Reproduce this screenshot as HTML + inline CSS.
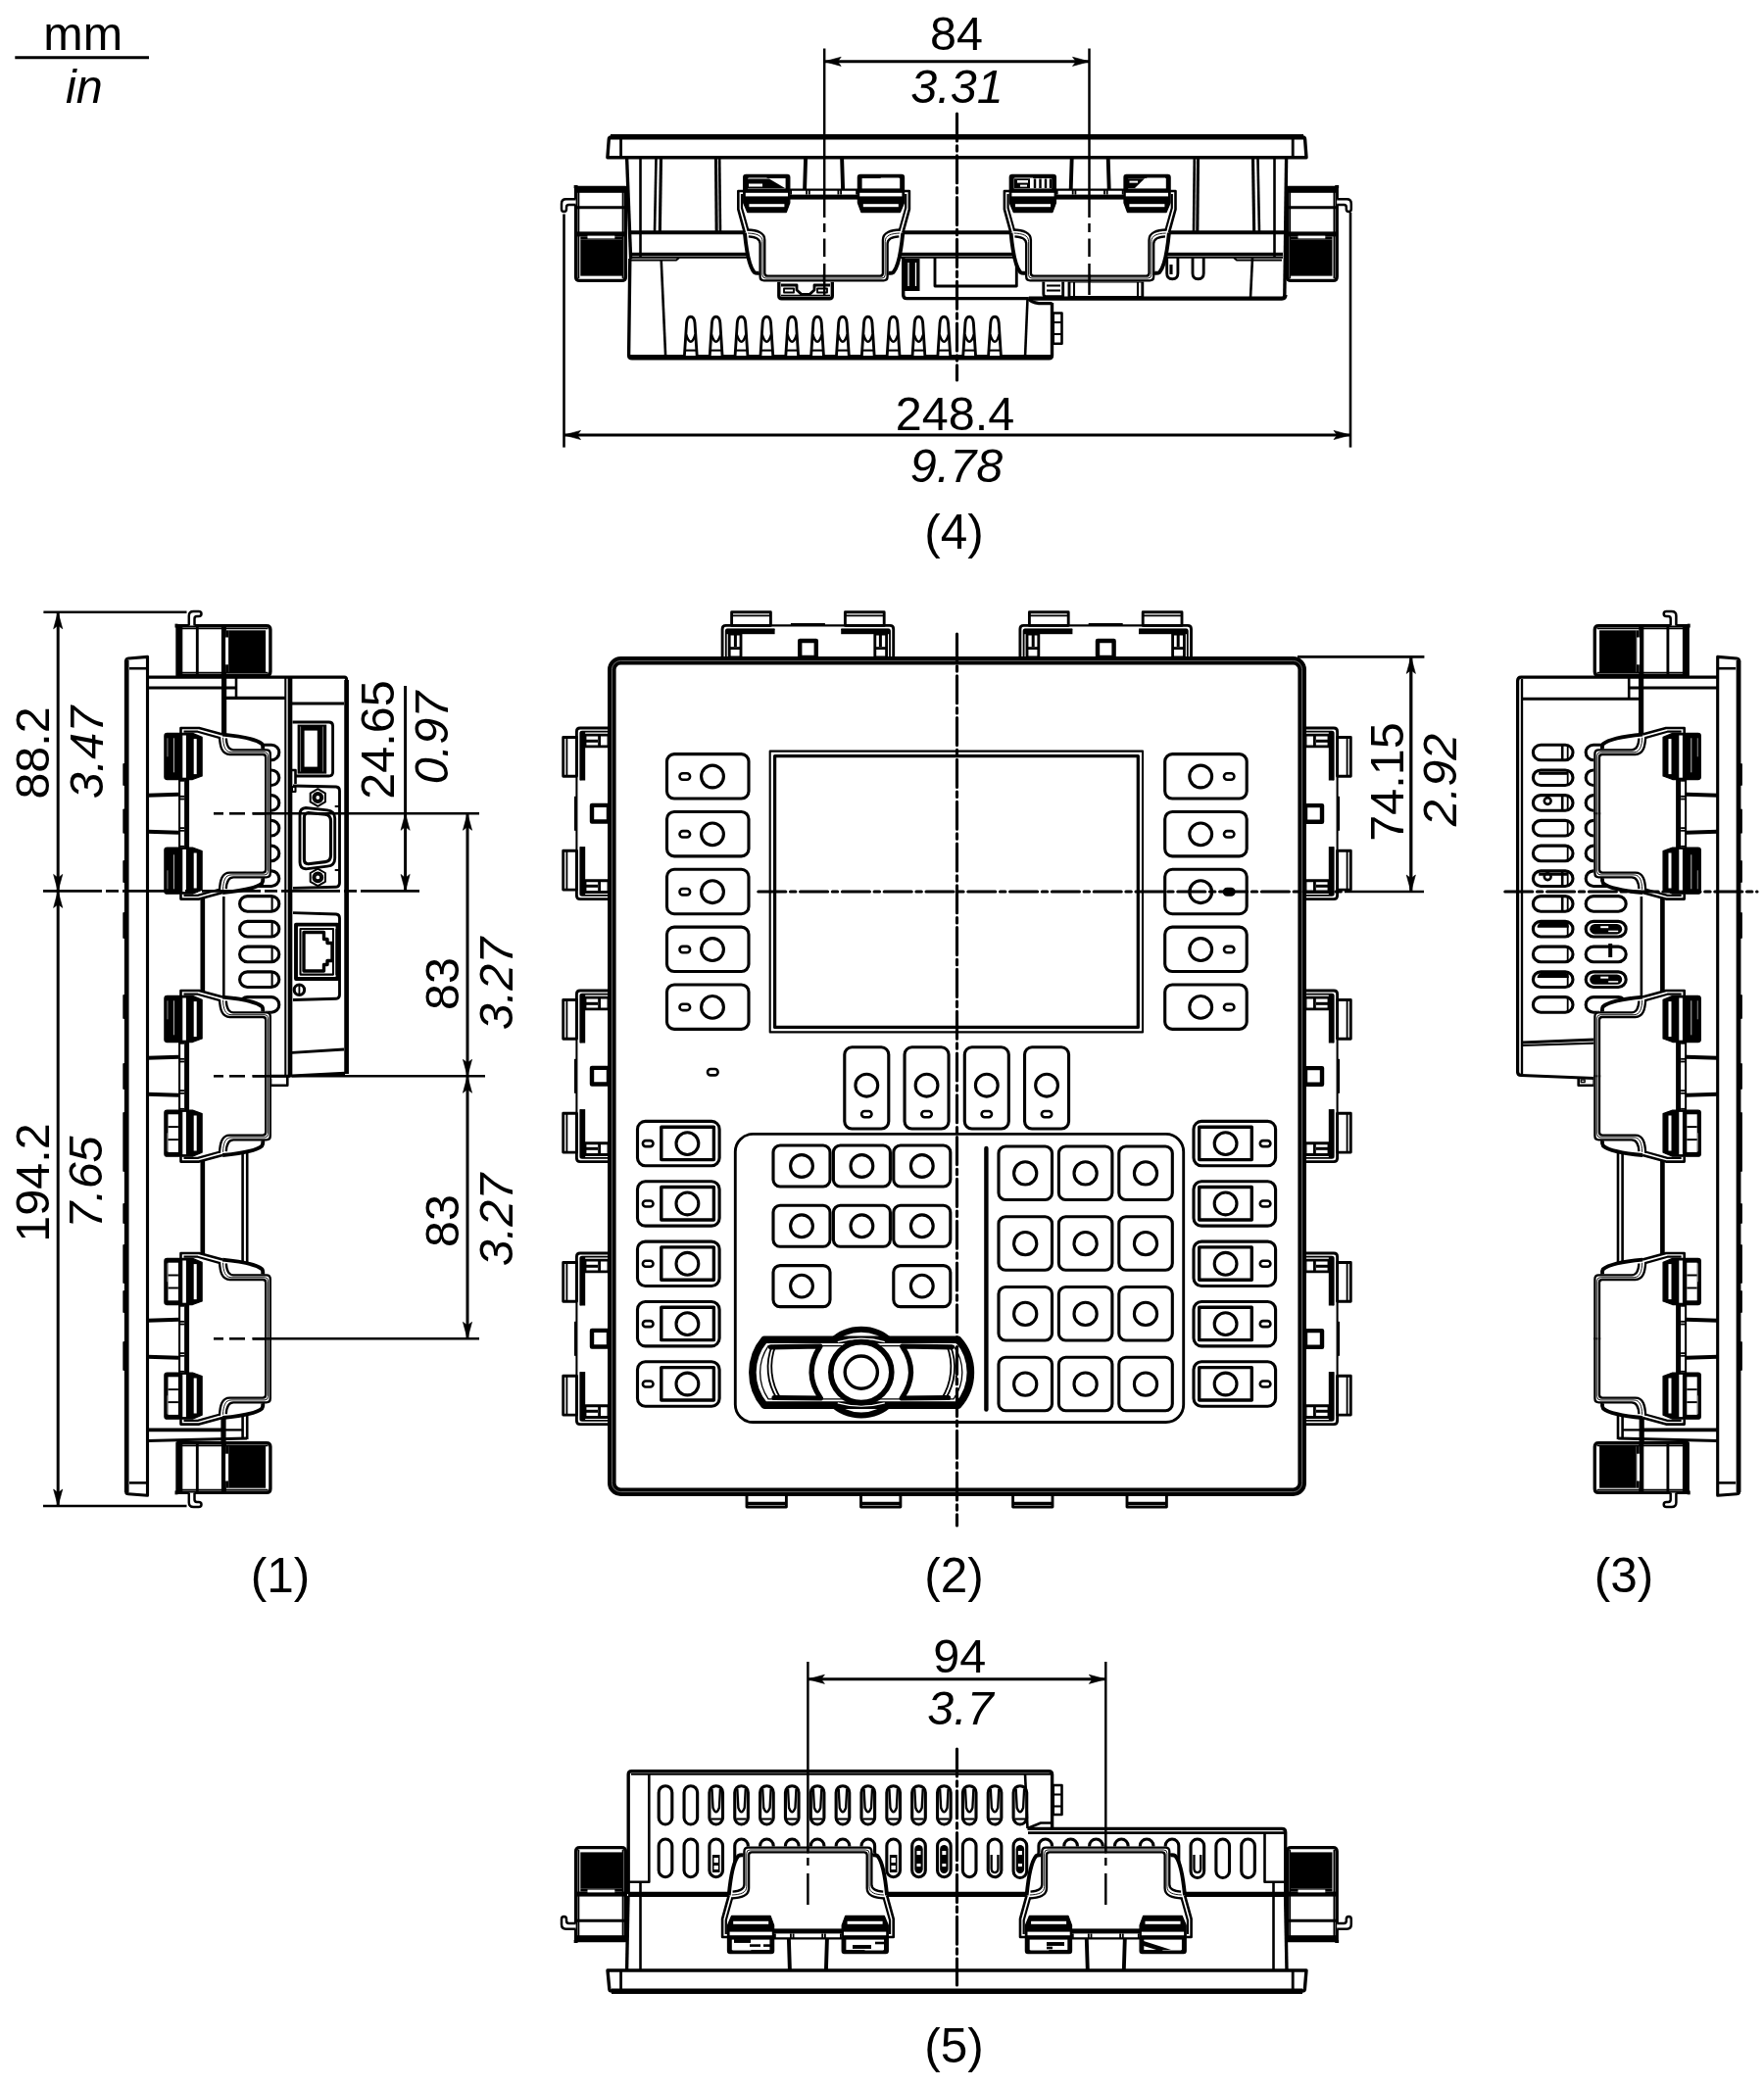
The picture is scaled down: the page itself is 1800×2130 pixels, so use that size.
<!DOCTYPE html><html><head><meta charset="utf-8"><title>Dimensions</title>
<style>html,body{margin:0;padding:0;background:#fff}svg{display:block}text{font-family:"Liberation Sans",sans-serif}</style></head><body>
<svg width="1800" height="2130" viewBox="0 0 1800 2130" fill="none" stroke="#000" stroke-linejoin="round">
<rect x="0" y="0" width="1800" height="2130" fill="#fff" stroke="none"/>
<defs>
<g id="clip">
<line x1="-18.5" y1="0" x2="-19.5" y2="32" stroke-width="3.9" />
<line x1="18.5" y1="0" x2="19.5" y2="32" stroke-width="3.9" />
<path d="M-87.3,34 V52.7 L-80.7,76.6 C-78.5,100 -74.5,113 -71,117 L-65.8,121 Q-65.8,126.4 -60.8,126.4 H60.8 Q65.8,126.4 65.8,121 L71,117 C74.5,113 78.5,100 80.7,76.6 L87.3,52.7 V34 Z" stroke-width="0" fill="#fff" stroke="none" />
<g transform="scale(1 1)" >
<path d="M-81.9,34 H-87.3 V52.7 L-80.7,76.6" stroke-width="2.6" fill="none" stroke="#000" />
<path d="M-80.7,76.6 C-78.5,100 -74.5,112.8 -71.1,116.8 Q-69,118.2 -65.8,117.6" stroke-width="3.9" fill="none" stroke="#000" />
<path d="M-83.6,37 V51.2 L-77.2,74" stroke-width="2.21" fill="none" stroke="#000" />
<path d="M-78.3,73.5 C-68,74 -60.3,76 -60.3,84 V117.7 Q-60.3,120.7 -57.3,120.7 H1" stroke-width="2.34" fill="none" stroke="#000" />
<path d="M-76.8,80.3 C-70,80.7 -65,82.2 -65,87.7 V121.3 Q-65,125.3 -61,125.3 H1" stroke-width="2.34" fill="none" stroke="#000" />
<path d="M-77.5,77 C-69,77.4 -62.6,79 -62.6,85.6 V119.6 Q-62.6,123 -59.2,123 H1" stroke-width="0.91" fill="none" stroke="#000" />
<path d="M-81.9,20 Q-81.9,17.4 -79.4,17.4 H-37.3 Q-34.8,17.4 -34.8,20 V46 L-38.3,55.6 H-77.9 L-81.9,46 Z" stroke-width="1.3" fill="#000" stroke="#000" />
<rect x="-79.8" y="35.8" width="43.2" height="3.6" rx="0" stroke-width="0" fill="#fff" stroke="none" />
<rect x="-76.2" y="47.2" width="36" height="3" rx="0" stroke-width="0" fill="#fff" stroke="none" />
<rect x="-77" y="26.4" width="35" height="1.1" rx="0" stroke-width="0" fill="#aaa" stroke="none" />
<rect x="-77" y="20" width="19" height="0.9" rx="0" stroke-width="0" fill="#999" stroke="none" />
</g>
<g transform="scale(-1 1)" >
<path d="M-81.9,34 H-87.3 V52.7 L-80.7,76.6" stroke-width="2.6" fill="none" stroke="#000" />
<path d="M-80.7,76.6 C-78.5,100 -74.5,112.8 -71.1,116.8 Q-69,118.2 -65.8,117.6" stroke-width="3.9" fill="none" stroke="#000" />
<path d="M-83.6,37 V51.2 L-77.2,74" stroke-width="2.21" fill="none" stroke="#000" />
<path d="M-78.3,73.5 C-68,74 -60.3,76 -60.3,84 V117.7 Q-60.3,120.7 -57.3,120.7 H1" stroke-width="2.34" fill="none" stroke="#000" />
<path d="M-76.8,80.3 C-70,80.7 -65,82.2 -65,87.7 V121.3 Q-65,125.3 -61,125.3 H1" stroke-width="2.34" fill="none" stroke="#000" />
<path d="M-77.5,77 C-69,77.4 -62.6,79 -62.6,85.6 V119.6 Q-62.6,123 -59.2,123 H1" stroke-width="0.91" fill="none" stroke="#000" />
<path d="M-81.9,20 Q-81.9,17.4 -79.4,17.4 H-37.3 Q-34.8,17.4 -34.8,20 V46 L-38.3,55.6 H-77.9 L-81.9,46 Z" stroke-width="1.3" fill="#000" stroke="#000" />
<rect x="-79.8" y="35.8" width="43.2" height="3.6" rx="0" stroke-width="0" fill="#fff" stroke="none" />
<rect x="-76.2" y="47.2" width="36" height="3" rx="0" stroke-width="0" fill="#fff" stroke="none" />
<rect x="-77" y="26.4" width="35" height="1.1" rx="0" stroke-width="0" fill="#aaa" stroke="none" />
<rect x="-77" y="20" width="19" height="0.9" rx="0" stroke-width="0" fill="#999" stroke="none" />
</g>
<rect x="-35" y="37.6" width="70" height="5" rx="0" stroke-width="0" fill="#000" stroke="none" />
<line x1="-35" y1="32.6" x2="35" y2="32.6" stroke-width="2.08" />
<line x1="-33.5" y1="32.6" x2="-33.5" y2="37.6" stroke-width="1.82" />
<line x1="-17.5" y1="32.6" x2="-17.5" y2="37.6" stroke-width="1.82" />
<line x1="-14.8" y1="32.6" x2="-14.8" y2="37.6" stroke-width="1.82" />
<line x1="14.8" y1="32.6" x2="14.8" y2="37.6" stroke-width="1.82" />
<line x1="17.5" y1="32.6" x2="17.5" y2="37.6" stroke-width="1.82" />
<line x1="33.5" y1="32.6" x2="33.5" y2="37.6" stroke-width="1.82" />
</g>
<g id="clipInsetL">
<g transform="scale(1 1)" >
<rect x="-77.6" y="21" width="38.6" height="10.4" rx="0" stroke-width="0" fill="#fff" stroke="none" />
</g>
</g>
<g id="clipInsetR">
<g transform="scale(-1 1)" >
<rect x="-77.6" y="21" width="38.6" height="10.4" rx="0" stroke-width="0" fill="#fff" stroke="none" />
</g>
</g>
<g id="clipInset"><use href="#clipInsetL"/><use href="#clipInsetR"/></g>
<g id="screw">
<path d="M-32.4,30.5 H18.4 V121.4 Q18.4,125.4 14.4,125.4 H-28.4 Q-32.4,125.4 -32.4,121.4 Z" stroke-width="3.38" fill="#fff" stroke="#000" />
<line x1="-29.6" y1="31" x2="-29.6" y2="123" stroke-width="1.82" />
<line x1="15.6" y1="31" x2="15.6" y2="123" stroke-width="1.82" />
<rect x="-32.4" y="31" width="50.8" height="4.8" rx="0" stroke-width="0" fill="#000" stroke="none" />
<line x1="-32.4" y1="50.8" x2="18.4" y2="50.8" stroke-width="2.86" />
<rect x="-32.4" y="75.4" width="50.8" height="5" rx="0" stroke-width="0" fill="#000" stroke="none" />
<rect x="-27.7" y="83.3" width="42.7" height="37.3" rx="0" stroke-width="0" fill="#000" stroke="none" />
<rect x="-27.7" y="80.4" width="42.7" height="2.9" rx="0" stroke-width="0" fill="#000" stroke="none" />
<rect x="-20.5" y="79.6" width="27.8" height="2.8" rx="0" stroke-width="0" fill="#fff" stroke="none" />
<path d="M-32.4,42.3 H-42.5 Q-47,42.3 -47,47 V52.2 Q-47,55 -44.5,55 Q-42,55 -42,52.2 V50.4 Q-42,48 -39.6,48 H-32.4" stroke-width="2.47" fill="#fff" stroke="#000" />
<line x1="-32.4" y1="28" x2="-32.4" y2="31" stroke-width="3.9" />
</g>
<g id="fclip">
<g transform="scale(1 1)" >
<rect x="-77.8" y="-46.3" width="39.8" height="13.7" rx="0" stroke-width="2.86" fill="#fff" stroke="#000" />
<line x1="-77.8" y1="-42.6" x2="-38" y2="-42.6" stroke-width="1.82" />
<path d="M-87.3,0 V-29 Q-87.3,-32.6 -83.7,-32.6 H-38" stroke-width="2.86" fill="none" stroke="#000" />
<path d="M-83.6,0 V-27 Q-83.6,-28.6 -82,-28.6 H-34" stroke-width="1.82" fill="none" stroke="#000" />
<rect x="-83.6" y="-29.2" width="49.8" height="5.4" rx="0" stroke-width="0" fill="#000" stroke="none" />
<rect x="-80.2" y="-24" width="11.8" height="24" rx="0" stroke-width="2.86" fill="#fff" stroke="#000" />
<rect x="-75.5" y="-23" width="3" height="12" rx="0" stroke-width="0" fill="#000" stroke="none" />
<line x1="-80.2" y1="-9.4" x2="-68.4" y2="-9.4" stroke-width="2.86" />
</g>
<g transform="scale(-1 1)" >
<rect x="-77.8" y="-46.3" width="39.8" height="13.7" rx="0" stroke-width="2.86" fill="#fff" stroke="#000" />
<line x1="-77.8" y1="-42.6" x2="-38" y2="-42.6" stroke-width="1.82" />
<path d="M-87.3,0 V-29 Q-87.3,-32.6 -83.7,-32.6 H-38" stroke-width="2.86" fill="none" stroke="#000" />
<path d="M-83.6,0 V-27 Q-83.6,-28.6 -82,-28.6 H-34" stroke-width="1.82" fill="none" stroke="#000" />
<rect x="-83.6" y="-29.2" width="49.8" height="5.4" rx="0" stroke-width="0" fill="#000" stroke="none" />
<rect x="-80.2" y="-24" width="11.8" height="24" rx="0" stroke-width="2.86" fill="#fff" stroke="#000" />
<rect x="-75.5" y="-23" width="3" height="12" rx="0" stroke-width="0" fill="#000" stroke="none" />
<line x1="-80.2" y1="-9.4" x2="-68.4" y2="-9.4" stroke-width="2.86" />
</g>
<line x1="-38" y1="-32.6" x2="38" y2="-32.6" stroke-width="2.08" />
<line x1="-17.5" y1="-34" x2="17.5" y2="-34" stroke-width="2.08" />
<rect x="-8.2" y="-17" width="16.6" height="17" rx="0" stroke-width="4.42" fill="#fff" stroke="#000" />
</g>
</defs>
<text x="84.7" y="51" font-size="48.5" text-anchor="middle" fill="#000" stroke="none">mm</text>
<line x1="15.3" y1="58.7" x2="152" y2="58.7" stroke-width="2.86" />
<text x="85.8" y="104.6" font-size="48.5" font-style="italic" text-anchor="middle" fill="#000" stroke="none">in</text>
<path d="M623.4,140 H1329.6 Q1331.4,140 1331.6,142 L1333,160.7 H619.9 L621.3,142 Q621.5,140 623.4,140 Z" stroke-width="3.38" fill="#fff" stroke="#000" />
<line x1="623" y1="139.8" x2="1330" y2="139.8" stroke-width="5.46" />
<line x1="633.6" y1="141" x2="633.6" y2="160" stroke-width="2.86" />
<line x1="1319.2" y1="141" x2="1319.2" y2="160" stroke-width="2.86" />
<line x1="639.6" y1="161" x2="643.6" y2="264" stroke-width="3.38" />
<line x1="653.5" y1="161" x2="653.5" y2="262" stroke-width="2.6" />
<line x1="669.5" y1="161" x2="668" y2="237" stroke-width="2.6" />
<line x1="674.5" y1="161" x2="673.3" y2="237" stroke-width="3.12" />
<line x1="730.5" y1="161" x2="731.2" y2="237" stroke-width="3.12" />
<line x1="734.2" y1="161" x2="735" y2="237" stroke-width="2.6" />
<line x1="1222.5" y1="161" x2="1221.8" y2="237" stroke-width="3.12" />
<line x1="1218.8" y1="161" x2="1218" y2="237" stroke-width="2.6" />
<line x1="1283.5" y1="161" x2="1285" y2="237" stroke-width="2.6" />
<line x1="1278.5" y1="161" x2="1279.7" y2="237" stroke-width="3.12" />
<line x1="1300.5" y1="161" x2="1300.5" y2="262" stroke-width="2.6" />
<line x1="1312.6" y1="161" x2="1310.8" y2="304" stroke-width="3.38" />
<line x1="642.5" y1="237.2" x2="1310.5" y2="237.2" stroke-width="3.9" />
<line x1="643.6" y1="259.6" x2="1309" y2="259.6" stroke-width="3.9" />
<line x1="643.6" y1="262.8" x2="1309" y2="262.8" stroke-width="1.82" />
<path d="M644,265.5 H690 L693,263" stroke-width="2.08" fill="none" stroke="#000" />
<path d="M1308,265.5 H1262 L1259,263" stroke-width="2.08" fill="none" stroke="#000" />
<path d="M642.8,264 L641.6,362.5 Q641.6,365.8 645,365.8 H1070.5 Q1073.5,365.8 1073.5,362.8 V309" stroke-width="3.38" fill="none" stroke="#000" />
<line x1="643" y1="363" x2="1073" y2="363" stroke-width="1.82" />
<line x1="674.7" y1="265" x2="679.2" y2="365" stroke-width="2.6" />
<line x1="1048.5" y1="305" x2="1046" y2="365" stroke-width="2.6" />
<rect x="1074.7" y="319.5" width="8.8" height="31.2" rx="0" stroke-width="2.6" fill="none" stroke="#000" />
<line x1="1074.7" y1="329" x2="1083.5" y2="329" stroke-width="2.08" />
<line x1="1074.7" y1="341" x2="1083.5" y2="341" stroke-width="2.08" />
<path d="M698.4,363 L700.6,329.5 Q701.2,323.2 704.8,323.2 Q708.4,323.2 709,329.5 L711.2,363" stroke-width="2.86" fill="#fff" stroke="#000" />
<path d="M700.1,341.5 Q704.8,356 709.5,341.5" stroke-width="2.47" fill="none" stroke="#000" />
<line x1="699.4" y1="357.6" x2="710.4" y2="357.6" stroke-width="2.08" />
<path d="M724.25,363 L726.45,329.5 Q727.05,323.2 730.65,323.2 Q734.25,323.2 734.85,329.5 L737.05,363" stroke-width="2.86" fill="#fff" stroke="#000" />
<path d="M725.95,341.5 Q730.65,356 735.35,341.5" stroke-width="2.47" fill="none" stroke="#000" />
<line x1="725.25" y1="357.6" x2="736.25" y2="357.6" stroke-width="2.08" />
<path d="M750.1,363 L752.3,329.5 Q752.9,323.2 756.5,323.2 Q760.1,323.2 760.7,329.5 L762.9,363" stroke-width="2.86" fill="#fff" stroke="#000" />
<path d="M751.8,341.5 Q756.5,356 761.2,341.5" stroke-width="2.47" fill="none" stroke="#000" />
<line x1="751.1" y1="357.6" x2="762.1" y2="357.6" stroke-width="2.08" />
<path d="M775.95,363 L778.15,329.5 Q778.75,323.2 782.35,323.2 Q785.95,323.2 786.55,329.5 L788.75,363" stroke-width="2.86" fill="#fff" stroke="#000" />
<path d="M777.65,341.5 Q782.35,356 787.05,341.5" stroke-width="2.47" fill="none" stroke="#000" />
<line x1="776.95" y1="357.6" x2="787.95" y2="357.6" stroke-width="2.08" />
<path d="M801.8,363 L804,329.5 Q804.6,323.2 808.2,323.2 Q811.8,323.2 812.4,329.5 L814.6,363" stroke-width="2.86" fill="#fff" stroke="#000" />
<path d="M803.5,341.5 Q808.2,356 812.9,341.5" stroke-width="2.47" fill="none" stroke="#000" />
<line x1="802.8" y1="357.6" x2="813.8" y2="357.6" stroke-width="2.08" />
<path d="M827.65,363 L829.85,329.5 Q830.45,323.2 834.05,323.2 Q837.65,323.2 838.25,329.5 L840.45,363" stroke-width="2.86" fill="#fff" stroke="#000" />
<path d="M829.35,341.5 Q834.05,356 838.75,341.5" stroke-width="2.47" fill="none" stroke="#000" />
<line x1="828.65" y1="357.6" x2="839.65" y2="357.6" stroke-width="2.08" />
<path d="M853.5,363 L855.7,329.5 Q856.3,323.2 859.9,323.2 Q863.5,323.2 864.1,329.5 L866.3,363" stroke-width="2.86" fill="#fff" stroke="#000" />
<path d="M855.2,341.5 Q859.9,356 864.6,341.5" stroke-width="2.47" fill="none" stroke="#000" />
<line x1="854.5" y1="357.6" x2="865.5" y2="357.6" stroke-width="2.08" />
<path d="M879.35,363 L881.55,329.5 Q882.15,323.2 885.75,323.2 Q889.35,323.2 889.95,329.5 L892.15,363" stroke-width="2.86" fill="#fff" stroke="#000" />
<path d="M881.05,341.5 Q885.75,356 890.45,341.5" stroke-width="2.47" fill="none" stroke="#000" />
<line x1="880.35" y1="357.6" x2="891.35" y2="357.6" stroke-width="2.08" />
<path d="M905.2,363 L907.4,329.5 Q908,323.2 911.6,323.2 Q915.2,323.2 915.8,329.5 L918,363" stroke-width="2.86" fill="#fff" stroke="#000" />
<path d="M906.9,341.5 Q911.6,356 916.3,341.5" stroke-width="2.47" fill="none" stroke="#000" />
<line x1="906.2" y1="357.6" x2="917.2" y2="357.6" stroke-width="2.08" />
<path d="M931.05,363 L933.25,329.5 Q933.85,323.2 937.45,323.2 Q941.05,323.2 941.65,329.5 L943.85,363" stroke-width="2.86" fill="#fff" stroke="#000" />
<path d="M932.75,341.5 Q937.45,356 942.15,341.5" stroke-width="2.47" fill="none" stroke="#000" />
<line x1="932.05" y1="357.6" x2="943.05" y2="357.6" stroke-width="2.08" />
<path d="M956.9,363 L959.1,329.5 Q959.7,323.2 963.3,323.2 Q966.9,323.2 967.5,329.5 L969.7,363" stroke-width="2.86" fill="#fff" stroke="#000" />
<path d="M958.6,341.5 Q963.3,356 968,341.5" stroke-width="2.47" fill="none" stroke="#000" />
<line x1="957.9" y1="357.6" x2="968.9" y2="357.6" stroke-width="2.08" />
<path d="M982.75,363 L984.95,329.5 Q985.55,323.2 989.15,323.2 Q992.75,323.2 993.35,329.5 L995.55,363" stroke-width="2.86" fill="#fff" stroke="#000" />
<path d="M984.45,341.5 Q989.15,356 993.85,341.5" stroke-width="2.47" fill="none" stroke="#000" />
<line x1="983.75" y1="357.6" x2="994.75" y2="357.6" stroke-width="2.08" />
<path d="M1008.6,363 L1010.8,329.5 Q1011.4,323.2 1015,323.2 Q1018.6,323.2 1019.2,329.5 L1021.4,363" stroke-width="2.86" fill="#fff" stroke="#000" />
<path d="M1010.3,341.5 Q1015,356 1019.7,341.5" stroke-width="2.47" fill="none" stroke="#000" />
<line x1="1009.6" y1="357.6" x2="1020.6" y2="357.6" stroke-width="2.08" />
<path d="M921.7,263 V301 Q921.7,304.6 925.3,304.6 H1049.8" stroke-width="3.38" fill="none" stroke="#000" />
<rect x="923" y="264" width="15.5" height="33" rx="0" stroke-width="0" fill="#000" stroke="none" />
<line x1="927" y1="268" x2="927" y2="292" stroke-width="1.3" stroke="#fff"/>
<line x1="934.5" y1="268" x2="934.5" y2="292" stroke-width="1.3" stroke="#fff"/>
<path d="M954,263 V292 H1037.3 V263" stroke-width="2.86" fill="none" stroke="#000" />
<path d="M1049.8,304.6 H1308 Q1311.5,304.6 1311.5,301" stroke-width="4.16" fill="none" stroke="#000" />
<path d="M1049.8,304.6 Q1052,309 1060,309.6 H1073.5" stroke-width="3.38" fill="none" stroke="#000" />
<line x1="1278" y1="263" x2="1276" y2="304" stroke-width="2.6" />
<path d="M1190.7,263 V279 Q1190.7,284.8 1196.3,284.8 Q1201.9,284.8 1201.9,279 V263" stroke-width="2.86" fill="none" stroke="#000" />
<path d="M1217,263 V279 Q1217,284.8 1222.6,284.8 Q1228.2,284.8 1228.2,279 V263" stroke-width="2.86" fill="none" stroke="#000" />
<line x1="1195" y1="270" x2="1195" y2="280" stroke-width="3.12" />
<rect x="1091" y="287" width="74.8" height="16.5" rx="0" stroke-width="2.86" fill="none" stroke="#000" />
<line x1="1096" y1="287" x2="1096" y2="303.5" stroke-width="2.08" />
<line x1="1161" y1="287" x2="1161" y2="303.5" stroke-width="2.08" />
<path d="M1064.8,287 V300 Q1064.8,302.6 1067.4,302.6 H1084.7 V287" stroke-width="2.86" fill="none" stroke="#000" />
<line x1="1068" y1="291.5" x2="1082" y2="291.5" stroke-width="2.08" />
<line x1="1068" y1="296.5" x2="1082" y2="296.5" stroke-width="2.08" />
<path d="M794.8,287.4 V302 Q794.8,304.8 797.6,304.8 H846.5 Q849.3,304.8 849.3,302 V287.4" stroke-width="3.38" fill="#fff" stroke="#000" />
<path d="M797,291 H813 V296 L818,300.5 H826 L831,296 V291 H847" stroke-width="2.86" fill="none" stroke="#000" />
<rect x="800" y="294.5" width="10" height="4" rx="0" stroke-width="1.82" fill="none" stroke="#000" />
<rect x="834" y="294.5" width="10" height="4" rx="0" stroke-width="1.82" fill="none" stroke="#000" />
<line x1="797" y1="301.6" x2="847" y2="301.6" stroke-width="1.82" />
<use href="#clip" transform="translate(840.6 161)"/>
<use href="#clipInset" transform="translate(840.6 161)"/>
<use href="#clip" transform="translate(1112.2 161)"/>
<use href="#clipInset" transform="translate(1112.2 161)"/>
<path d="M763,182.5 H785 L801,192 H763 Z" stroke-width="0" fill="#000" stroke="none" />
<rect x="764" y="187.5" width="14" height="3" rx="0" stroke-width="0" fill="#fff" stroke="none" />
<line x1="1056" y1="182.5" x2="1056" y2="192" stroke-width="2.47" />
<line x1="1061.5" y1="182.5" x2="1061.5" y2="192" stroke-width="2.47" />
<line x1="1067" y1="182.5" x2="1067" y2="192" stroke-width="2.47" />
<line x1="1072" y1="182.5" x2="1072" y2="192" stroke-width="2.47" />
<rect x="1034.8" y="182.3" width="16.2" height="9.7" rx="0" stroke-width="0" fill="#000" stroke="none" />
<rect x="1038" y="184" width="11" height="2.6" rx="0" stroke-width="0" fill="#fff" stroke="none" />
<rect x="1041" y="188.6" width="7" height="2" rx="0" stroke-width="0" fill="#fff" stroke="none" />
<path d="M1150.8,182.3 H1168 L1158,192 H1150.8 Z" stroke-width="0" fill="#000" stroke="none" />
<rect x="1152.5" y="184.6" width="8.5" height="2" rx="0" stroke-width="0" fill="#fff" stroke="none" />
<use href="#screw" transform="translate(620 161)"/>
<use href="#screw" transform="translate(1331.8 161) scale(-1 1)"/>
<line x1="841.2" y1="49.5" x2="841.2" y2="222" stroke-width="2.47" />
<line x1="841.2" y1="228" x2="841.2" y2="237" stroke-width="2.47" />
<line x1="841.2" y1="243.5" x2="841.2" y2="262" stroke-width="2.47" />
<line x1="841.2" y1="269" x2="841.2" y2="301" stroke-width="2.47" />
<line x1="1111.5" y1="49.5" x2="1111.5" y2="222" stroke-width="2.47" />
<line x1="1111.5" y1="228" x2="1111.5" y2="237" stroke-width="2.47" />
<line x1="1111.5" y1="243.5" x2="1111.5" y2="262" stroke-width="2.47" />
<line x1="1111.5" y1="269" x2="1111.5" y2="301" stroke-width="2.47" />
<line x1="841.2" y1="62.8" x2="1111.5" y2="62.8" stroke-width="2.99" />
<polygon points="0,0 -17,4.6 -13.5,0 -17,-4.6" fill="#000" stroke="#000" stroke-width="0.6" transform="translate(841.2 62.8) rotate(180)"/>
<polygon points="0,0 -17,4.6 -13.5,0 -17,-4.6" fill="#000" stroke="#000" stroke-width="0.6" transform="translate(1111.5 62.8) rotate(0)"/>
<text x="976" y="51" font-size="48.5" text-anchor="middle" fill="#000" stroke="none">84</text>
<text x="976.5" y="104.6" font-size="48.5" font-style="italic" text-anchor="middle" fill="#000" stroke="none">3.31</text>
<line x1="976.5" y1="116" x2="976.5" y2="388" stroke-width="3.12" stroke-linecap="round" stroke-dasharray="28 4.7 5.4 4.7"/>
<line x1="575.5" y1="218.5" x2="575.5" y2="456.6" stroke-width="2.6" />
<line x1="1378" y1="217" x2="1378" y2="456.6" stroke-width="2.6" />
<line x1="575.5" y1="444" x2="1378" y2="444" stroke-width="2.99" />
<polygon points="0,0 -17,4.6 -13.5,0 -17,-4.6" fill="#000" stroke="#000" stroke-width="0.6" transform="translate(575.5 444) rotate(180)"/>
<polygon points="0,0 -17,4.6 -13.5,0 -17,-4.6" fill="#000" stroke="#000" stroke-width="0.6" transform="translate(1378 444) rotate(0)"/>
<text x="974.5" y="438.8" font-size="48.5" text-anchor="middle" fill="#000" stroke="none">248.4</text>
<text x="976" y="492.3" font-size="48.5" font-style="italic" text-anchor="middle" fill="#000" stroke="none">9.78</text>
<text x="973.5" y="560.3" font-size="49.5" text-anchor="middle" fill="#000" stroke="none">(4)</text>
<use href="#fclip" transform="translate(824.4 671)"/>
<use href="#fclip" transform="translate(1128.2 671)"/>
<use href="#fclip" transform="translate(621 830.3) rotate(-90)"/>
<use href="#fclip" transform="translate(1332 830.3) rotate(90)"/>
<use href="#fclip" transform="translate(621 1098.3) rotate(-90)"/>
<use href="#fclip" transform="translate(1332 1098.3) rotate(90)"/>
<use href="#fclip" transform="translate(621 1366.3) rotate(-90)"/>
<use href="#fclip" transform="translate(1332 1366.3) rotate(90)"/>
<rect x="762" y="1525" width="40.4" height="13" rx="0" stroke-width="2.86" fill="#fff" stroke="#000" />
<line x1="762" y1="1534.4" x2="802.4" y2="1534.4" stroke-width="3.12" />
<rect x="878.5" y="1525" width="40.4" height="13" rx="0" stroke-width="2.86" fill="#fff" stroke="#000" />
<line x1="878.5" y1="1534.4" x2="918.9" y2="1534.4" stroke-width="3.12" />
<rect x="1033.6" y="1525" width="40.4" height="13" rx="0" stroke-width="2.86" fill="#fff" stroke="#000" />
<line x1="1033.6" y1="1534.4" x2="1074" y2="1534.4" stroke-width="3.12" />
<rect x="1150" y="1525" width="40.4" height="13" rx="0" stroke-width="2.86" fill="#fff" stroke="#000" />
<line x1="1150" y1="1534.4" x2="1190.4" y2="1534.4" stroke-width="3.12" />
<rect x="624.3" y="674.3" width="704.4" height="848.4" rx="9" stroke-width="8.6" fill="#fff" stroke="#000" />
<rect x="624.4" y="674.4" width="704.2" height="848.2" rx="9" stroke-width="0.91" fill="none" stroke="#777" />
<rect x="785.7" y="766.6" width="380.3" height="286.8" rx="0" stroke-width="2.08" fill="none" stroke="#000" />
<rect x="790.6" y="771.6" width="370.7" height="276.8" rx="0" stroke-width="3.25" fill="none" stroke="#000" />
<rect x="680.5" y="769.6" width="83.5" height="45.4" rx="7.5" stroke-width="3.12" fill="none" stroke="#000" />
<circle cx="727" cy="792.5" r="11.4" stroke-width="3.12" fill="none"/>
<rect x="693.5" y="789.3" width="10.6" height="6.4" rx="3.2" stroke-width="2.6" fill="none" stroke="#000" />
<rect x="1188.7" y="769.6" width="83.5" height="45.4" rx="7.5" stroke-width="3.12" fill="none" stroke="#000" />
<circle cx="1225.2" cy="792.5" r="11.4" stroke-width="3.12" fill="none"/>
<rect x="1249" y="789.3" width="10.4" height="6.4" rx="3.2" stroke-width="2.6" fill="none" stroke="#000" />
<rect x="680.5" y="828.45" width="83.5" height="45.4" rx="7.5" stroke-width="3.12" fill="none" stroke="#000" />
<circle cx="727" cy="851.35" r="11.4" stroke-width="3.12" fill="none"/>
<rect x="693.5" y="848.15" width="10.6" height="6.4" rx="3.2" stroke-width="2.6" fill="none" stroke="#000" />
<rect x="1188.7" y="828.45" width="83.5" height="45.4" rx="7.5" stroke-width="3.12" fill="none" stroke="#000" />
<circle cx="1225.2" cy="851.35" r="11.4" stroke-width="3.12" fill="none"/>
<rect x="1249" y="848.15" width="10.4" height="6.4" rx="3.2" stroke-width="2.6" fill="none" stroke="#000" />
<rect x="680.5" y="887.3" width="83.5" height="45.4" rx="7.5" stroke-width="3.12" fill="none" stroke="#000" />
<circle cx="727" cy="910.2" r="11.4" stroke-width="3.12" fill="none"/>
<rect x="693.5" y="907" width="10.6" height="6.4" rx="3.2" stroke-width="2.6" fill="none" stroke="#000" />
<rect x="1188.7" y="887.3" width="83.5" height="45.4" rx="7.5" stroke-width="3.12" fill="none" stroke="#000" />
<circle cx="1225.2" cy="910.2" r="11.4" stroke-width="3.12" fill="none"/>
<rect x="1249" y="907" width="10.4" height="6.4" rx="3.2" stroke-width="2.6" fill="#000" stroke="#000" />
<rect x="680.5" y="946.15" width="83.5" height="45.4" rx="7.5" stroke-width="3.12" fill="none" stroke="#000" />
<circle cx="727" cy="969.05" r="11.4" stroke-width="3.12" fill="none"/>
<rect x="693.5" y="965.85" width="10.6" height="6.4" rx="3.2" stroke-width="2.6" fill="none" stroke="#000" />
<rect x="1188.7" y="946.15" width="83.5" height="45.4" rx="7.5" stroke-width="3.12" fill="none" stroke="#000" />
<circle cx="1225.2" cy="969.05" r="11.4" stroke-width="3.12" fill="none"/>
<rect x="1249" y="965.85" width="10.4" height="6.4" rx="3.2" stroke-width="2.6" fill="none" stroke="#000" />
<rect x="680.5" y="1005" width="83.5" height="45.4" rx="7.5" stroke-width="3.12" fill="none" stroke="#000" />
<circle cx="727" cy="1027.9" r="11.4" stroke-width="3.12" fill="none"/>
<rect x="693.5" y="1024.7" width="10.6" height="6.4" rx="3.2" stroke-width="2.6" fill="none" stroke="#000" />
<rect x="1188.7" y="1005" width="83.5" height="45.4" rx="7.5" stroke-width="3.12" fill="none" stroke="#000" />
<circle cx="1225.2" cy="1027.9" r="11.4" stroke-width="3.12" fill="none"/>
<rect x="1249" y="1024.7" width="10.4" height="6.4" rx="3.2" stroke-width="2.6" fill="none" stroke="#000" />
<rect x="722" y="1091" width="10.6" height="6.4" rx="3.2" stroke-width="2.6" fill="none" stroke="#000" />
<rect x="861.8" y="1068.8" width="45" height="83.2" rx="7.5" stroke-width="3.12" fill="none" stroke="#000" />
<circle cx="884.3" cy="1107.7" r="11.4" stroke-width="3.12" fill="none"/>
<rect x="879.1" y="1134" width="10.4" height="6.2" rx="3.1" stroke-width="2.6" fill="none" stroke="#000" />
<rect x="923.05" y="1068.8" width="45" height="83.2" rx="7.5" stroke-width="3.12" fill="none" stroke="#000" />
<circle cx="945.55" cy="1107.7" r="11.4" stroke-width="3.12" fill="none"/>
<rect x="940.35" y="1134" width="10.4" height="6.2" rx="3.1" stroke-width="2.6" fill="none" stroke="#000" />
<rect x="984.3" y="1068.8" width="45" height="83.2" rx="7.5" stroke-width="3.12" fill="none" stroke="#000" />
<circle cx="1006.8" cy="1107.7" r="11.4" stroke-width="3.12" fill="none"/>
<rect x="1001.6" y="1134" width="10.4" height="6.2" rx="3.1" stroke-width="2.6" fill="none" stroke="#000" />
<rect x="1045.55" y="1068.8" width="45" height="83.2" rx="7.5" stroke-width="3.12" fill="none" stroke="#000" />
<circle cx="1068.05" cy="1107.7" r="11.4" stroke-width="3.12" fill="none"/>
<rect x="1062.85" y="1134" width="10.4" height="6.2" rx="3.1" stroke-width="2.6" fill="none" stroke="#000" />
<rect x="650.5" y="1144.4" width="83.6" height="45.4" rx="8" stroke-width="3.12" fill="none" stroke="#000" />
<rect x="674.8" y="1150.2" width="53.6" height="33.4" rx="0" stroke-width="3.38" fill="none" stroke="#000" />
<circle cx="701.4" cy="1167.1" r="11.4" stroke-width="3.12" fill="none"/>
<rect x="655.9" y="1164.1" width="10.6" height="6" rx="3" stroke-width="2.6" fill="none" stroke="#000" />
<rect x="1218" y="1144.4" width="83.6" height="45.4" rx="8" stroke-width="3.12" fill="none" stroke="#000" />
<rect x="1223.7" y="1150.2" width="53.6" height="33.4" rx="0" stroke-width="3.38" fill="none" stroke="#000" />
<circle cx="1250.6" cy="1167.1" r="11.4" stroke-width="3.12" fill="none"/>
<rect x="1285.8" y="1164.1" width="10.6" height="6" rx="3" stroke-width="2.6" fill="none" stroke="#000" />
<rect x="650.5" y="1205.75" width="83.6" height="45.4" rx="8" stroke-width="3.12" fill="none" stroke="#000" />
<rect x="674.8" y="1211.55" width="53.6" height="33.4" rx="0" stroke-width="3.38" fill="none" stroke="#000" />
<circle cx="701.4" cy="1228.45" r="11.4" stroke-width="3.12" fill="none"/>
<rect x="655.9" y="1225.45" width="10.6" height="6" rx="3" stroke-width="2.6" fill="none" stroke="#000" />
<rect x="1218" y="1205.75" width="83.6" height="45.4" rx="8" stroke-width="3.12" fill="none" stroke="#000" />
<rect x="1223.7" y="1211.55" width="53.6" height="33.4" rx="0" stroke-width="3.38" fill="none" stroke="#000" />
<circle cx="1250.6" cy="1228.45" r="11.4" stroke-width="3.12" fill="none"/>
<rect x="1285.8" y="1225.45" width="10.6" height="6" rx="3" stroke-width="2.6" fill="none" stroke="#000" />
<rect x="650.5" y="1267.1" width="83.6" height="45.4" rx="8" stroke-width="3.12" fill="none" stroke="#000" />
<rect x="674.8" y="1272.9" width="53.6" height="33.4" rx="0" stroke-width="3.38" fill="none" stroke="#000" />
<circle cx="701.4" cy="1289.8" r="11.4" stroke-width="3.12" fill="none"/>
<rect x="655.9" y="1286.8" width="10.6" height="6" rx="3" stroke-width="2.6" fill="none" stroke="#000" />
<rect x="1218" y="1267.1" width="83.6" height="45.4" rx="8" stroke-width="3.12" fill="none" stroke="#000" />
<rect x="1223.7" y="1272.9" width="53.6" height="33.4" rx="0" stroke-width="3.38" fill="none" stroke="#000" />
<circle cx="1250.6" cy="1289.8" r="11.4" stroke-width="3.12" fill="none"/>
<rect x="1285.8" y="1286.8" width="10.6" height="6" rx="3" stroke-width="2.6" fill="none" stroke="#000" />
<rect x="650.5" y="1328.45" width="83.6" height="45.4" rx="8" stroke-width="3.12" fill="none" stroke="#000" />
<rect x="674.8" y="1334.25" width="53.6" height="33.4" rx="0" stroke-width="3.38" fill="none" stroke="#000" />
<circle cx="701.4" cy="1351.15" r="11.4" stroke-width="3.12" fill="none"/>
<rect x="655.9" y="1348.15" width="10.6" height="6" rx="3" stroke-width="2.6" fill="none" stroke="#000" />
<rect x="1218" y="1328.45" width="83.6" height="45.4" rx="8" stroke-width="3.12" fill="none" stroke="#000" />
<rect x="1223.7" y="1334.25" width="53.6" height="33.4" rx="0" stroke-width="3.38" fill="none" stroke="#000" />
<circle cx="1250.6" cy="1351.15" r="11.4" stroke-width="3.12" fill="none"/>
<rect x="1285.8" y="1348.15" width="10.6" height="6" rx="3" stroke-width="2.6" fill="none" stroke="#000" />
<rect x="650.5" y="1389.8" width="83.6" height="45.4" rx="8" stroke-width="3.12" fill="none" stroke="#000" />
<rect x="674.8" y="1395.6" width="53.6" height="33.4" rx="0" stroke-width="3.38" fill="none" stroke="#000" />
<circle cx="701.4" cy="1412.5" r="11.4" stroke-width="3.12" fill="none"/>
<rect x="655.9" y="1409.5" width="10.6" height="6" rx="3" stroke-width="2.6" fill="none" stroke="#000" />
<rect x="1218" y="1389.8" width="83.6" height="45.4" rx="8" stroke-width="3.12" fill="none" stroke="#000" />
<rect x="1223.7" y="1395.6" width="53.6" height="33.4" rx="0" stroke-width="3.38" fill="none" stroke="#000" />
<circle cx="1250.6" cy="1412.5" r="11.4" stroke-width="3.12" fill="none"/>
<rect x="1285.8" y="1409.5" width="10.6" height="6" rx="3" stroke-width="2.6" fill="none" stroke="#000" />
<rect x="750.3" y="1157.4" width="457.4" height="294.1" rx="18" stroke-width="2.86" fill="none" stroke="#000" />
<line x1="1006.4" y1="1172" x2="1006.4" y2="1438.6" stroke-width="4.42" stroke-linecap="round"/>
<rect x="789" y="1169" width="58" height="42" rx="7" stroke-width="3.12" fill="none" stroke="#000" />
<circle cx="818" cy="1190" r="11.4" stroke-width="3.12" fill="none"/>
<rect x="850.4" y="1169" width="58" height="42" rx="7" stroke-width="3.12" fill="none" stroke="#000" />
<circle cx="879.4" cy="1190" r="11.4" stroke-width="3.12" fill="none"/>
<rect x="911.8" y="1169" width="58" height="42" rx="7" stroke-width="3.12" fill="none" stroke="#000" />
<circle cx="940.8" cy="1190" r="11.4" stroke-width="3.12" fill="none"/>
<rect x="789" y="1230.3" width="58" height="42" rx="7" stroke-width="3.12" fill="none" stroke="#000" />
<circle cx="818" cy="1251.3" r="11.4" stroke-width="3.12" fill="none"/>
<rect x="850.4" y="1230.3" width="58" height="42" rx="7" stroke-width="3.12" fill="none" stroke="#000" />
<circle cx="879.4" cy="1251.3" r="11.4" stroke-width="3.12" fill="none"/>
<rect x="911.8" y="1230.3" width="58" height="42" rx="7" stroke-width="3.12" fill="none" stroke="#000" />
<circle cx="940.8" cy="1251.3" r="11.4" stroke-width="3.12" fill="none"/>
<rect x="789" y="1291.6" width="58" height="42" rx="7" stroke-width="3.12" fill="none" stroke="#000" />
<circle cx="818" cy="1312.6" r="11.4" stroke-width="3.12" fill="none"/>
<rect x="911.8" y="1291.6" width="58" height="42" rx="7" stroke-width="3.12" fill="none" stroke="#000" />
<circle cx="940.8" cy="1312.6" r="11.4" stroke-width="3.12" fill="none"/>
<rect x="1019" y="1170" width="54.5" height="54.5" rx="7" stroke-width="3.12" fill="none" stroke="#000" />
<circle cx="1046.2" cy="1197.4" r="11.6" stroke-width="3.12" fill="none"/>
<rect x="1080.4" y="1170" width="54.5" height="54.5" rx="7" stroke-width="3.12" fill="none" stroke="#000" />
<circle cx="1107.6" cy="1197.4" r="11.6" stroke-width="3.12" fill="none"/>
<rect x="1141.8" y="1170" width="54.5" height="54.5" rx="7" stroke-width="3.12" fill="none" stroke="#000" />
<circle cx="1169" cy="1197.4" r="11.6" stroke-width="3.12" fill="none"/>
<rect x="1019" y="1241.75" width="54.5" height="54.5" rx="7" stroke-width="3.12" fill="none" stroke="#000" />
<circle cx="1046.2" cy="1269.15" r="11.6" stroke-width="3.12" fill="none"/>
<rect x="1080.4" y="1241.75" width="54.5" height="54.5" rx="7" stroke-width="3.12" fill="none" stroke="#000" />
<circle cx="1107.6" cy="1269.15" r="11.6" stroke-width="3.12" fill="none"/>
<rect x="1141.8" y="1241.75" width="54.5" height="54.5" rx="7" stroke-width="3.12" fill="none" stroke="#000" />
<circle cx="1169" cy="1269.15" r="11.6" stroke-width="3.12" fill="none"/>
<rect x="1019" y="1313.5" width="54.5" height="54.5" rx="7" stroke-width="3.12" fill="none" stroke="#000" />
<circle cx="1046.2" cy="1340.9" r="11.6" stroke-width="3.12" fill="none"/>
<rect x="1080.4" y="1313.5" width="54.5" height="54.5" rx="7" stroke-width="3.12" fill="none" stroke="#000" />
<circle cx="1107.6" cy="1340.9" r="11.6" stroke-width="3.12" fill="none"/>
<rect x="1141.8" y="1313.5" width="54.5" height="54.5" rx="7" stroke-width="3.12" fill="none" stroke="#000" />
<circle cx="1169" cy="1340.9" r="11.6" stroke-width="3.12" fill="none"/>
<rect x="1019" y="1385.25" width="54.5" height="54.5" rx="7" stroke-width="3.12" fill="none" stroke="#000" />
<circle cx="1046.2" cy="1412.65" r="11.6" stroke-width="3.12" fill="none"/>
<rect x="1080.4" y="1385.25" width="54.5" height="54.5" rx="7" stroke-width="3.12" fill="none" stroke="#000" />
<circle cx="1107.6" cy="1412.65" r="11.6" stroke-width="3.12" fill="none"/>
<rect x="1141.8" y="1385.25" width="54.5" height="54.5" rx="7" stroke-width="3.12" fill="none" stroke="#000" />
<circle cx="1169" cy="1412.65" r="11.6" stroke-width="3.12" fill="none"/>
<circle cx="878.8" cy="1400.6" r="43.8" stroke-width="6" fill="none"/>
<path d="M780,1367.3 H977.6 A50 50 0 0 1 977.6,1434.1 H780 A52 52 0 0 1 780,1367.3 Z" stroke-width="7.6" fill="#fff" stroke="#000" />
<path d="M784,1373.6 H973 A46 46 0 0 1 973,1427.8 H784 A48 48 0 0 1 784,1373.6 Z" stroke-width="1.3" fill="none" stroke="#000" />
<path d="M854.8,1369.6 Q878.8,1363 902.8,1369.6" stroke-width="1.4" fill="none" stroke="#fff" />
<path d="M854.8,1431.8 Q878.8,1438.4 902.8,1431.8" stroke-width="1.4" fill="none" stroke="#fff" />
<g transform="translate(878.8 0) scale(1 1) translate(-878.8 0)" >
<path d="M786.5,1374.8 L837,1374 Q819,1400.6 837.4,1427 L790,1426.5" stroke-width="5.2" fill="none" stroke="#000" stroke-linecap="round"/>
<path d="M788,1373 A60 60 0 0 0 793,1428" stroke-width="1.8" fill="none" stroke="#000" />
<path d="M791.5,1373 A60 60 0 0 0 797,1428" stroke-width="1.8" fill="none" stroke="#000" />
</g>
<g transform="translate(878.8 0) scale(-1 1) translate(-878.8 0)" >
<path d="M786.5,1374.8 L837,1374 Q819,1400.6 837.4,1427 L790,1426.5" stroke-width="5.2" fill="none" stroke="#000" stroke-linecap="round"/>
<path d="M788,1373 A60 60 0 0 0 793,1428" stroke-width="1.8" fill="none" stroke="#000" />
<path d="M791.5,1373 A60 60 0 0 0 797,1428" stroke-width="1.8" fill="none" stroke="#000" />
</g>
<line x1="975.8" y1="1404" x2="975.8" y2="1414" stroke-width="2" />
<circle cx="878.8" cy="1400.6" r="31" stroke-width="5.6" fill="#fff"/>
<circle cx="878.8" cy="1400.6" r="16.6" stroke-width="3.4" fill="none"/>
<line x1="976.5" y1="647" x2="976.5" y2="1557" stroke-width="3.12" stroke-linecap="round" stroke-dasharray="28 4.7 5.4 4.7"/>
<line x1="773.8" y1="910" x2="1372" y2="910" stroke-width="3.12" stroke-linecap="round" stroke-dasharray="28 4.7 5.4 4.7"/>
<line x1="1372" y1="910" x2="1453" y2="910" stroke-width="2.6" />
<line x1="1324" y1="670.4" x2="1453.4" y2="670.4" stroke-width="2.6" />
<line x1="1439.8" y1="670.4" x2="1439.8" y2="910" stroke-width="3.25" />
<polygon points="0,0 -17,4.6 -13.5,0 -17,-4.6" fill="#000" stroke="#000" stroke-width="0.6" transform="translate(1439.8 670.4) rotate(-90)"/>
<polygon points="0,0 -17,4.6 -13.5,0 -17,-4.6" fill="#000" stroke="#000" stroke-width="0.6" transform="translate(1439.8 910) rotate(90)"/>
<text x="1432" y="798" font-size="48.5" transform="rotate(-90 1432 798)" text-anchor="middle" fill="#000" stroke="none">74.15</text>
<text x="1485.8" y="796" font-size="48.5" font-style="italic" transform="rotate(-90 1485.8 796)" text-anchor="middle" fill="#000" stroke="none">2.92</text>
<text x="973.5" y="1624.6" font-size="49.5" text-anchor="middle" fill="#000" stroke="none">(2)</text>
<path d="M128.6,674.5 Q128.6,672.3 131,672 L150.5,670.4 V1526.3 L131,1524.8 Q128.6,1524.6 128.6,1522.4 Z" stroke-width="3.12" fill="#fff" stroke="#000" />
<line x1="129.2" y1="674" x2="129.2" y2="1523" stroke-width="4.68" />
<line x1="132" y1="682.2" x2="150.5" y2="682.2" stroke-width="2.6" />
<line x1="132" y1="1513.4" x2="150.5" y2="1513.4" stroke-width="2.6" />
<line x1="126.3" y1="780" x2="126.3" y2="801" stroke-width="1.95" stroke-linecap="round"/>
<line x1="126.3" y1="826.5" x2="126.3" y2="849.7" stroke-width="1.95" stroke-linecap="round"/>
<line x1="126.3" y1="879" x2="126.3" y2="900" stroke-width="1.95" stroke-linecap="round"/>
<line x1="126.3" y1="932" x2="126.3" y2="957" stroke-width="1.95" stroke-linecap="round"/>
<line x1="126.3" y1="1016" x2="126.3" y2="1039" stroke-width="1.95" stroke-linecap="round"/>
<line x1="126.3" y1="1086" x2="126.3" y2="1111" stroke-width="1.95" stroke-linecap="round"/>
<line x1="126.3" y1="1136" x2="126.3" y2="1195" stroke-width="1.95" stroke-linecap="round"/>
<line x1="126.3" y1="1229" x2="126.3" y2="1248" stroke-width="1.95" stroke-linecap="round"/>
<line x1="126.3" y1="1271" x2="126.3" y2="1309" stroke-width="1.95" stroke-linecap="round"/>
<line x1="126.3" y1="1318" x2="126.3" y2="1339" stroke-width="1.95" stroke-linecap="round"/>
<line x1="126.3" y1="1370" x2="126.3" y2="1398" stroke-width="1.95" stroke-linecap="round"/>
<path d="M150.5,691 H351.5 Q353.6,691 353.6,694 V1096" stroke-width="3.25" fill="none" stroke="#000" />
<line x1="353.6" y1="694" x2="353.6" y2="1096" stroke-width="4.68" />
<line x1="150.5" y1="702" x2="241.7" y2="702" stroke-width="3.12" />
<line x1="241" y1="691" x2="241" y2="712.4" stroke-width="2.6" />
<line x1="230" y1="712.4" x2="291" y2="712.4" stroke-width="3.12" />
<line x1="298" y1="718" x2="351" y2="718" stroke-width="3.12" />
<line x1="228.6" y1="689" x2="228.6" y2="752" stroke-width="5.2" />
<line x1="291.3" y1="691" x2="291.3" y2="1098" stroke-width="2.08" />
<line x1="296" y1="691" x2="296" y2="1098" stroke-width="4.68" />
<path d="M257.6,1098.3 H296" stroke-width="3.12" fill="none" stroke="#000" />
<path d="M276,1101 V1107.8 H293.3 V1099" stroke-width="2.6" fill="none" stroke="#000" />
<line x1="298" y1="1098" x2="352" y2="1095.4" stroke-width="3.12" />
<line x1="298" y1="1074.4" x2="351" y2="1071" stroke-width="2.86" />
<line x1="206.8" y1="915" x2="206.8" y2="1014" stroke-width="4.68" />
<line x1="228.3" y1="915" x2="228.3" y2="1020" stroke-width="2.6" />
<line x1="206.8" y1="1183" x2="206.8" y2="1282" stroke-width="4.68" />
<line x1="247.6" y1="1175" x2="247.6" y2="1469" stroke-width="2.6" />
<line x1="252.2" y1="1177" x2="252.2" y2="1469" stroke-width="2.6" />
<line x1="150.5" y1="1459.4" x2="228" y2="1459.4" stroke-width="3.9" />
<line x1="228" y1="1459.4" x2="248" y2="1459.4" stroke-width="2.34" />
<line x1="150.5" y1="1470.5" x2="252" y2="1468" stroke-width="2.86" />
<line x1="228" y1="1443" x2="228" y2="1523" stroke-width="5.2" />
<rect x="244.6" y="760.2" width="40.2" height="15.6" rx="7.8" stroke-width="3.12" fill="#fff" stroke="#000" />
<rect x="244.6" y="785.94" width="40.2" height="15.6" rx="7.8" stroke-width="3.12" fill="#fff" stroke="#000" />
<rect x="244.6" y="811.68" width="40.2" height="15.6" rx="7.8" stroke-width="3.12" fill="#fff" stroke="#000" />
<rect x="244.6" y="837.42" width="40.2" height="15.6" rx="7.8" stroke-width="3.12" fill="#fff" stroke="#000" />
<rect x="244.6" y="863.16" width="40.2" height="15.6" rx="7.8" stroke-width="3.12" fill="#fff" stroke="#000" />
<rect x="244.6" y="888.9" width="40.2" height="15.6" rx="7.8" stroke-width="3.12" fill="#fff" stroke="#000" />
<rect x="244.6" y="914.64" width="40.2" height="15.6" rx="7.8" stroke-width="3.12" fill="#fff" stroke="#000" />
<rect x="244.6" y="940.38" width="40.2" height="15.6" rx="7.8" stroke-width="3.12" fill="#fff" stroke="#000" />
<rect x="244.6" y="966.12" width="40.2" height="15.6" rx="7.8" stroke-width="3.12" fill="#fff" stroke="#000" />
<rect x="244.6" y="991.86" width="40.2" height="15.6" rx="7.8" stroke-width="3.12" fill="#fff" stroke="#000" />
<rect x="244.6" y="1017.6" width="40.2" height="15.6" rx="7.8" stroke-width="3.12" fill="#fff" stroke="#000" />
<line x1="277.6" y1="915.44" x2="277.6" y2="929.44" stroke-width="2.08" />
<line x1="277.6" y1="941.18" x2="277.6" y2="955.18" stroke-width="2.08" />
<line x1="277.6" y1="966.92" x2="277.6" y2="980.92" stroke-width="2.08" />
<line x1="277.6" y1="992.66" x2="277.6" y2="1006.66" stroke-width="2.08" />
<path d="M298,786 H301.5 V800" stroke-width="2.6" fill="none" stroke="#000" />
<rect x="298" y="803" width="3.5" height="5" rx="0" stroke-width="2.08" fill="none" stroke="#000" />
<path d="M298.5,737 H335.5 Q339.6,737 339.6,741 V788 Q339.6,792 335.5,792 H302" stroke-width="2.86" fill="none" stroke="#000" />
<rect x="303.6" y="739.6" width="29.6" height="50" rx="0" stroke-width="0" fill="#000" stroke="none" />
<rect x="310.6" y="745.6" width="13.2" height="37" rx="0" stroke-width="0" fill="#fff" stroke="none" />
<line x1="306.6" y1="741.5" x2="306.6" y2="787.5" stroke-width="0.78" stroke="#999"/>
<line x1="329.6" y1="741.5" x2="329.6" y2="787.5" stroke-width="0.78" stroke="#999"/>
<path d="M299,802 L343,803 Q346.5,803.3 346.5,807 V901 Q346.5,905 343,905.3 L299,906.4" stroke-width="2.86" fill="none" stroke="#000" />
<polygon points="331.92,818.4 324.3,822.8 316.68,818.4 316.68,809.6 324.3,805.2 331.92,809.6" stroke-width="2" fill="#fff"/>
<circle cx="324.3" cy="814" r="4.6" stroke-width="2.6" fill="none"/>
<circle cx="324.3" cy="814" r="2.8" stroke-width="1.82" fill="none"/>
<polygon points="331.92,899.8 324.3,904.2 316.68,899.8 316.68,891 324.3,886.6 331.92,891" stroke-width="2" fill="#fff"/>
<circle cx="324.3" cy="895.4" r="4.6" stroke-width="2.6" fill="none"/>
<circle cx="324.3" cy="895.4" r="2.8" stroke-width="1.82" fill="none"/>
<path d="M312,824.5 L334,826.8 Q341.7,827.8 341.7,835 V876 Q341.7,883.5 334,884.2 L312,886.8 Q306,886.4 306,880 V831 Q306,825 312,824.5 Z" stroke-width="2.86" fill="none" stroke="#000" />
<path d="M314.5,829.5 L332,831.3 Q337.5,832 337.5,838 V873 Q337.5,879 332,879.6 L314.5,881.8 Q310.4,881.6 310.4,877 V834.4 Q310.4,830 314.5,829.5 Z" stroke-width="3.12" fill="none" stroke="#000" />
<line x1="341.7" y1="823" x2="346.5" y2="823" stroke-width="2.08" />
<line x1="341.7" y1="888" x2="346.5" y2="888" stroke-width="2.08" />
<path d="M299,931.6 L343,933 Q346.5,933.3 346.5,937 V1015 Q346.5,1019 343,1019.3 L299,1020.5" stroke-width="2.86" fill="none" stroke="#000" />
<rect x="302" y="943.6" width="42.5" height="55.4" rx="0" stroke-width="3.9" fill="none" stroke="#000" />
<rect x="306.5" y="948" width="33.5" height="46.6" rx="0" stroke-width="2.08" fill="none" stroke="#000" />
<path d="M310,951.5 H330.5 V958.5 H334 V962.5 H339 V980.5 H334 V984.5 H330.5 V991 H310 Z" stroke-width="3.38" fill="none" stroke="#000" />
<line x1="344.5" y1="948" x2="344.5" y2="995" stroke-width="4.16" />
<circle cx="305.4" cy="1010.2" r="5.2" stroke-width="3.12" fill="none"/>
<line x1="305.4" y1="1006" x2="305.4" y2="1014.4" stroke-width="1.82" />
<use href="#clip" transform="matrix(0 1 1 0 150.5 830.3)"/>
<use href="#clip" transform="matrix(0 1 1 0 150.5 1098.3)"/>
<use href="#clipInsetR" transform="matrix(0 1 1 0 150.5 1098.3)"/>
<line x1="171.5" y1="1150.1" x2="181.9" y2="1150.1" stroke-width="1.95" />
<line x1="171.5" y1="1163.1" x2="181.9" y2="1163.1" stroke-width="1.95" />
<use href="#clip" transform="matrix(0 1 1 0 150.5 1366.3)"/>
<use href="#clipInsetL" transform="matrix(0 1 1 0 150.5 1366.3)"/>
<line x1="171.5" y1="1301.5" x2="181.9" y2="1301.5" stroke-width="1.95" />
<line x1="171.5" y1="1314.5" x2="181.9" y2="1314.5" stroke-width="1.95" />
<use href="#clipInsetR" transform="matrix(0 1 1 0 150.5 1366.3)"/>
<line x1="171.5" y1="1418.1" x2="181.9" y2="1418.1" stroke-width="1.95" />
<line x1="171.5" y1="1431.1" x2="181.9" y2="1431.1" stroke-width="1.95" />
<use href="#screw" transform="matrix(0 1 1 0 150.5 671)"/>
<use href="#screw" transform="matrix(0 -1 1 0 150.5 1491)"/>
<line x1="218" y1="830.3" x2="228" y2="830.3" stroke-width="2.6" />
<line x1="234" y1="830.3" x2="250" y2="830.3" stroke-width="2.6" />
<line x1="257.6" y1="830.3" x2="270" y2="830.3" stroke-width="2.6" />
<line x1="218" y1="1098.3" x2="228" y2="1098.3" stroke-width="2.6" />
<line x1="234" y1="1098.3" x2="250" y2="1098.3" stroke-width="2.6" />
<line x1="257.6" y1="1098.3" x2="270" y2="1098.3" stroke-width="2.6" />
<line x1="218" y1="1366.3" x2="228" y2="1366.3" stroke-width="2.6" />
<line x1="234" y1="1366.3" x2="250" y2="1366.3" stroke-width="2.6" />
<line x1="257.6" y1="1366.3" x2="270" y2="1366.3" stroke-width="2.6" />
<line x1="44.4" y1="624.8" x2="190.5" y2="624.8" stroke-width="2.47" />
<line x1="44" y1="1537" x2="190.5" y2="1537" stroke-width="2.47" />
<line x1="44" y1="909.4" x2="428.6" y2="909.4" stroke-width="2.6" stroke-dasharray="60 4 13 4"/>
<line x1="59.2" y1="624.8" x2="59.2" y2="1537" stroke-width="2.99" />
<polygon points="0,0 -17,4.6 -13.5,0 -17,-4.6" fill="#000" stroke="#000" stroke-width="0.6" transform="translate(59.2 624.8) rotate(-90)"/>
<polygon points="0,0 -17,4.6 -13.5,0 -17,-4.6" fill="#000" stroke="#000" stroke-width="0.6" transform="translate(59.2 909.4) rotate(90)"/>
<polygon points="0,0 -17,4.6 -13.5,0 -17,-4.6" fill="#000" stroke="#000" stroke-width="0.6" transform="translate(59.2 909.4) rotate(-90)"/>
<polygon points="0,0 -17,4.6 -13.5,0 -17,-4.6" fill="#000" stroke="#000" stroke-width="0.6" transform="translate(59.2 1537) rotate(90)"/>
<text x="50.3" y="768.4" font-size="48.5" transform="rotate(-90 50.3 768.4)" text-anchor="middle" fill="#000" stroke="none">88.2</text>
<text x="104.5" y="768" font-size="48.5" font-style="italic" transform="rotate(-90 104.5 768)" text-anchor="middle" fill="#000" stroke="none">3.47</text>
<text x="50.3" y="1207" font-size="48.5" transform="rotate(-90 50.3 1207)" text-anchor="middle" fill="#000" stroke="none">194.2</text>
<text x="104.5" y="1206.6" font-size="48.5" font-style="italic" transform="rotate(-90 104.5 1206.6)" text-anchor="middle" fill="#000" stroke="none">7.65</text>
<line x1="257.6" y1="830.3" x2="489" y2="830.3" stroke-width="2.6" />
<line x1="257.6" y1="1098.3" x2="495" y2="1098.3" stroke-width="2.6" />
<line x1="257.6" y1="1366.3" x2="489" y2="1366.3" stroke-width="2.6" />
<line x1="413.6" y1="700" x2="413.6" y2="909.4" stroke-width="2.99" />
<polygon points="0,0 -17,4.6 -13.5,0 -17,-4.6" fill="#000" stroke="#000" stroke-width="0.6" transform="translate(413.6 830.3) rotate(-90)"/>
<polygon points="0,0 -17,4.6 -13.5,0 -17,-4.6" fill="#000" stroke="#000" stroke-width="0.6" transform="translate(413.6 909.4) rotate(90)"/>
<line x1="477" y1="830.3" x2="477" y2="1366.3" stroke-width="2.99" />
<polygon points="0,0 -17,4.6 -13.5,0 -17,-4.6" fill="#000" stroke="#000" stroke-width="0.6" transform="translate(477 830.3) rotate(-90)"/>
<polygon points="0,0 -17,4.6 -13.5,0 -17,-4.6" fill="#000" stroke="#000" stroke-width="0.6" transform="translate(477 1098.3) rotate(90)"/>
<polygon points="0,0 -17,4.6 -13.5,0 -17,-4.6" fill="#000" stroke="#000" stroke-width="0.6" transform="translate(477 1098.3) rotate(-90)"/>
<polygon points="0,0 -17,4.6 -13.5,0 -17,-4.6" fill="#000" stroke="#000" stroke-width="0.6" transform="translate(477 1366.3) rotate(90)"/>
<text x="402.3" y="755" font-size="48.5" transform="rotate(-90 402.3 755)" text-anchor="middle" fill="#000" stroke="none">24.65</text>
<text x="456.5" y="753" font-size="48.5" font-style="italic" transform="rotate(-90 456.5 753)" text-anchor="middle" fill="#000" stroke="none">0.97</text>
<text x="468.3" y="1004" font-size="48.5" transform="rotate(-90 468.3 1004)" text-anchor="middle" fill="#000" stroke="none">83</text>
<text x="523" y="1004" font-size="48.5" font-style="italic" transform="rotate(-90 523 1004)" text-anchor="middle" fill="#000" stroke="none">3.27</text>
<text x="468.3" y="1246" font-size="48.5" transform="rotate(-90 468.3 1246)" text-anchor="middle" fill="#000" stroke="none">83</text>
<text x="523" y="1245" font-size="48.5" font-style="italic" transform="rotate(-90 523 1245)" text-anchor="middle" fill="#000" stroke="none">3.27</text>
<text x="286" y="1624.6" font-size="49.5" text-anchor="middle" fill="#000" stroke="none">(1)</text>
<g transform="translate(1903.2 0) scale(-1 1)" >
<path d="M128.6,674.5 Q128.6,672.3 131,672 L150.5,670.4 V1526.3 L131,1524.8 Q128.6,1524.6 128.6,1522.4 Z" stroke-width="3.12" fill="#fff" stroke="#000" />
<line x1="129.2" y1="674" x2="129.2" y2="1523" stroke-width="4.68" />
<line x1="132" y1="682.2" x2="150.5" y2="682.2" stroke-width="2.6" />
<line x1="132" y1="1513.4" x2="150.5" y2="1513.4" stroke-width="2.6" />
<line x1="126.3" y1="780" x2="126.3" y2="801" stroke-width="1.95" stroke-linecap="round"/>
<line x1="126.3" y1="826.5" x2="126.3" y2="849.7" stroke-width="1.95" stroke-linecap="round"/>
<line x1="126.3" y1="879" x2="126.3" y2="900" stroke-width="1.95" stroke-linecap="round"/>
<line x1="126.3" y1="932" x2="126.3" y2="957" stroke-width="1.95" stroke-linecap="round"/>
<line x1="126.3" y1="1016" x2="126.3" y2="1039" stroke-width="1.95" stroke-linecap="round"/>
<line x1="126.3" y1="1086" x2="126.3" y2="1111" stroke-width="1.95" stroke-linecap="round"/>
<line x1="126.3" y1="1136" x2="126.3" y2="1195" stroke-width="1.95" stroke-linecap="round"/>
<line x1="126.3" y1="1229" x2="126.3" y2="1248" stroke-width="1.95" stroke-linecap="round"/>
<line x1="126.3" y1="1271" x2="126.3" y2="1309" stroke-width="1.95" stroke-linecap="round"/>
<line x1="126.3" y1="1318" x2="126.3" y2="1339" stroke-width="1.95" stroke-linecap="round"/>
<line x1="126.3" y1="1370" x2="126.3" y2="1398" stroke-width="1.95" stroke-linecap="round"/>
<path d="M150.5,691 H351 Q354.6,691 354.6,695 V1094 Q354.6,1097.3 351,1097.5 L276,1100.5" stroke-width="3.25" fill="none" stroke="#000" />
<line x1="350.2" y1="693" x2="350.2" y2="1096" stroke-width="2.34" />
<line x1="150.5" y1="702" x2="241.7" y2="702" stroke-width="3.12" />
<line x1="241" y1="691" x2="241" y2="713.2" stroke-width="2.6" />
<line x1="230" y1="713.2" x2="350" y2="713.2" stroke-width="3.12" />
<line x1="228.6" y1="689" x2="228.6" y2="752" stroke-width="5.2" />
<line x1="276" y1="1061" x2="350" y2="1064" stroke-width="2.86" />
<line x1="276" y1="1064.6" x2="350" y2="1067" stroke-width="2.08" />
<path d="M276.5,1101 V1107.8 H292.5 V1100" stroke-width="2.6" fill="none" stroke="#000" />
<rect x="286" y="1102" width="4" height="2.5" rx="0" stroke-width="1.3" fill="none" stroke="#000" />
<line x1="206.8" y1="915" x2="206.8" y2="1014" stroke-width="4.68" />
<line x1="228.3" y1="915" x2="228.3" y2="1020" stroke-width="2.6" />
<line x1="206.8" y1="1183" x2="206.8" y2="1282" stroke-width="4.68" />
<line x1="247.6" y1="1175" x2="247.6" y2="1469" stroke-width="2.6" />
<line x1="252.2" y1="1177" x2="252.2" y2="1469" stroke-width="2.6" />
<line x1="150.5" y1="1459.4" x2="228" y2="1459.4" stroke-width="3.9" />
<line x1="228" y1="1459.4" x2="248" y2="1459.4" stroke-width="2.34" />
<line x1="150.5" y1="1470.5" x2="252" y2="1468" stroke-width="2.86" />
<line x1="228" y1="1443" x2="228" y2="1523" stroke-width="5.2" />
<rect x="244" y="760.2" width="41" height="15.6" rx="7.8" stroke-width="3.12" fill="#fff" stroke="#000" />
<rect x="298.2" y="760.2" width="40.6" height="15.6" rx="7.8" stroke-width="3.12" fill="#fff" stroke="#000" />
<line x1="303.5" y1="761" x2="303.5" y2="775" stroke-width="1.82" />
<rect x="244" y="785.94" width="41" height="15.6" rx="7.8" stroke-width="3.12" fill="#fff" stroke="#000" />
<rect x="298.2" y="785.94" width="40.6" height="15.6" rx="7.8" stroke-width="3.12" fill="#fff" stroke="#000" />
<line x1="303.5" y1="786.74" x2="303.5" y2="800.74" stroke-width="1.82" />
<rect x="244" y="811.68" width="41" height="15.6" rx="7.8" stroke-width="3.12" fill="#fff" stroke="#000" />
<rect x="298.2" y="811.68" width="40.6" height="15.6" rx="7.8" stroke-width="3.12" fill="#fff" stroke="#000" />
<line x1="303.5" y1="812.48" x2="303.5" y2="826.48" stroke-width="1.82" />
<rect x="244" y="837.42" width="41" height="15.6" rx="7.8" stroke-width="3.12" fill="#fff" stroke="#000" />
<rect x="298.2" y="837.42" width="40.6" height="15.6" rx="7.8" stroke-width="3.12" fill="#fff" stroke="#000" />
<line x1="303.5" y1="838.22" x2="303.5" y2="852.22" stroke-width="1.82" />
<rect x="244" y="863.16" width="41" height="15.6" rx="7.8" stroke-width="3.12" fill="#fff" stroke="#000" />
<rect x="298.2" y="863.16" width="40.6" height="15.6" rx="7.8" stroke-width="3.12" fill="#fff" stroke="#000" />
<line x1="303.5" y1="863.96" x2="303.5" y2="877.96" stroke-width="1.82" />
<rect x="244" y="888.9" width="41" height="15.6" rx="7.8" stroke-width="3.12" fill="#fff" stroke="#000" />
<rect x="298.2" y="888.9" width="40.6" height="15.6" rx="7.8" stroke-width="3.12" fill="#fff" stroke="#000" />
<line x1="303.5" y1="889.7" x2="303.5" y2="903.7" stroke-width="1.82" />
<rect x="244" y="914.64" width="41" height="15.6" rx="7.8" stroke-width="3.12" fill="#fff" stroke="#000" />
<rect x="298.2" y="914.64" width="40.6" height="15.6" rx="7.8" stroke-width="3.12" fill="#fff" stroke="#000" />
<line x1="303.5" y1="915.44" x2="303.5" y2="929.44" stroke-width="1.82" />
<rect x="244" y="940.38" width="41" height="15.6" rx="7.8" stroke-width="3.12" fill="#fff" stroke="#000" />
<rect x="298.2" y="940.38" width="40.6" height="15.6" rx="7.8" stroke-width="3.12" fill="#fff" stroke="#000" />
<line x1="303.5" y1="941.18" x2="303.5" y2="955.18" stroke-width="1.82" />
<rect x="244" y="966.12" width="41" height="15.6" rx="7.8" stroke-width="3.12" fill="#fff" stroke="#000" />
<rect x="298.2" y="966.12" width="40.6" height="15.6" rx="7.8" stroke-width="3.12" fill="#fff" stroke="#000" />
<line x1="303.5" y1="966.92" x2="303.5" y2="980.92" stroke-width="1.82" />
<rect x="244" y="991.86" width="41" height="15.6" rx="7.8" stroke-width="3.12" fill="#fff" stroke="#000" />
<rect x="298.2" y="991.86" width="40.6" height="15.6" rx="7.8" stroke-width="3.12" fill="#fff" stroke="#000" />
<line x1="303.5" y1="992.66" x2="303.5" y2="1006.66" stroke-width="1.82" />
<rect x="244" y="1017.6" width="41" height="15.6" rx="7.8" stroke-width="3.12" fill="#fff" stroke="#000" />
<rect x="298.2" y="1017.6" width="40.6" height="15.6" rx="7.8" stroke-width="3.12" fill="#fff" stroke="#000" />
<line x1="303.5" y1="1018.4" x2="303.5" y2="1032.4" stroke-width="1.82" />
<line x1="304" y1="789.24" x2="333" y2="789.24" stroke-width="3.12" />
<line x1="304" y1="892.2" x2="333" y2="892.2" stroke-width="3.12" />
<path d="M303,945.98 H334 Q333,941.58 328,941.58 H308 Q303.5,941.58 303,945.98 Z" stroke-width="1.3" fill="#000" stroke="#000" />
<path d="M303,997.46 H334 Q333,993.06 328,993.06 H308 Q303.5,993.06 303,997.46 Z" stroke-width="1.3" fill="#000" stroke="#000" />
<line x1="309" y1="761" x2="309" y2="775" stroke-width="2.6" />
<line x1="309" y1="812.48" x2="309" y2="826.48" stroke-width="2.6" />
<line x1="309" y1="889.7" x2="309" y2="903.7" stroke-width="2.6" />
<line x1="309" y1="915.44" x2="309" y2="929.44" stroke-width="2.6" />
<rect x="248" y="942.98" width="33" height="10.4" rx="5.2" stroke-width="0" fill="#000" stroke="none" />
<rect x="262" y="945.18" width="8" height="2" rx="0" stroke-width="0" fill="#fff" stroke="none" />
<rect x="252" y="949.68" width="10" height="1.5" rx="0" stroke-width="0" fill="#fff" stroke="none" />
<rect x="248" y="994.46" width="33" height="10.4" rx="5.2" stroke-width="0" fill="#000" stroke="none" />
<rect x="262" y="996.66" width="8" height="2" rx="0" stroke-width="0" fill="#fff" stroke="none" />
<rect x="252" y="1001.16" width="10" height="1.5" rx="0" stroke-width="0" fill="#fff" stroke="none" />
<rect x="258" y="963" width="4" height="14" rx="0" stroke-width="0" fill="#000" stroke="none" />
<circle cx="324" cy="817.48" r="3.4" stroke-width="2.6" fill="none"/>
<circle cx="324" cy="894.7" r="3.4" stroke-width="2.6" fill="none"/>
<use href="#clip" transform="matrix(0 1 1 0 150.5 830.3)"/>
<use href="#clip" transform="matrix(0 1 1 0 150.5 1098.3)"/>
<use href="#clipInsetR" transform="matrix(0 1 1 0 150.5 1098.3)"/>
<line x1="171.5" y1="1150.1" x2="181.9" y2="1150.1" stroke-width="1.95" />
<line x1="171.5" y1="1163.1" x2="181.9" y2="1163.1" stroke-width="1.95" />
<use href="#clip" transform="matrix(0 1 1 0 150.5 1366.3)"/>
<use href="#clipInsetL" transform="matrix(0 1 1 0 150.5 1366.3)"/>
<line x1="171.5" y1="1301.5" x2="181.9" y2="1301.5" stroke-width="1.95" />
<line x1="171.5" y1="1314.5" x2="181.9" y2="1314.5" stroke-width="1.95" />
<use href="#clipInsetR" transform="matrix(0 1 1 0 150.5 1366.3)"/>
<line x1="171.5" y1="1418.1" x2="181.9" y2="1418.1" stroke-width="1.95" />
<line x1="171.5" y1="1431.1" x2="181.9" y2="1431.1" stroke-width="1.95" />
<use href="#screw" transform="matrix(0 1 1 0 150.5 671)"/>
<use href="#screw" transform="matrix(0 -1 1 0 150.5 1491)"/>
</g>
<line x1="1535.8" y1="910" x2="1793" y2="910" stroke-width="3.12" stroke-linecap="round" stroke-dasharray="28 4.7 5.4 4.7"/>
<text x="1657" y="1624.6" font-size="49.5" text-anchor="middle" fill="#000" stroke="none">(3)</text>
<path d="M620,2011 H1333 L1331.4,2030 Q1331.2,2032 1329.4,2032 H623.8 Q622,2032 621.8,2030 Z" stroke-width="3.38" fill="#fff" stroke="#000" />
<line x1="624" y1="2032.2" x2="1329" y2="2032.2" stroke-width="5.46" />
<line x1="633.6" y1="2012" x2="633.6" y2="2031" stroke-width="2.86" />
<line x1="1319.2" y1="2012" x2="1319.2" y2="2031" stroke-width="2.86" />
<line x1="641" y1="1935" x2="639.6" y2="2011" stroke-width="3.38" />
<line x1="653.5" y1="1921" x2="653.5" y2="2011" stroke-width="2.6" />
<line x1="1311.6" y1="1935" x2="1313" y2="2011" stroke-width="3.38" />
<line x1="1299.5" y1="1921" x2="1299.5" y2="2011" stroke-width="2.6" />
<line x1="641" y1="1933.4" x2="1312" y2="1933.4" stroke-width="5.2" />
<path d="M641.2,1933 V1811 Q641.2,1807.6 644.6,1807.6 H1070 Q1073.6,1807.6 1073.6,1811 V1866" stroke-width="3.38" fill="none" stroke="#000" />
<line x1="644" y1="1810.6" x2="1072" y2="1810.6" stroke-width="2.08" />
<path d="M662.3,1810 V1920.7 H642" stroke-width="2.6" fill="none" stroke="#000" />
<line x1="1046" y1="1810" x2="1048.5" y2="1866" stroke-width="2.6" />
<path d="M1048.5,1866 L1062,1860.5 H1073.5" stroke-width="2.6" fill="none" stroke="#000" />
<rect x="1074.7" y="1822" width="8.8" height="30" rx="0" stroke-width="2.6" fill="none" stroke="#000" />
<line x1="1074.7" y1="1831.5" x2="1083.5" y2="1831.5" stroke-width="2.08" />
<line x1="1074.7" y1="1843.5" x2="1083.5" y2="1843.5" stroke-width="2.08" />
<path d="M1048.5,1866.4 H1308 Q1311.7,1866.4 1311.7,1870 V1933" stroke-width="3.38" fill="none" stroke="#000" />
<line x1="1049" y1="1870.6" x2="1311" y2="1870.6" stroke-width="2.86" />
<path d="M1290.5,1871 V1920.7 H1311" stroke-width="2.6" fill="none" stroke="#000" />
<rect x="672.2" y="1822.7" width="13.6" height="39.3" rx="6.8" stroke-width="3.12" fill="#fff" stroke="#000" />
<rect x="698.05" y="1822.7" width="13.6" height="39.3" rx="6.8" stroke-width="3.12" fill="#fff" stroke="#000" />
<rect x="723.9" y="1822.7" width="13.6" height="39.3" rx="6.8" stroke-width="3.12" fill="#fff" stroke="#000" />
<path d="M726.5,1826 L727.5,1845 Q730.7,1853.5 733.9,1845 L734.9,1826" stroke-width="2.34" fill="none" stroke="#000" />
<line x1="725.4" y1="1856.5" x2="735.9" y2="1856.5" stroke-width="2.08" />
<rect x="749.75" y="1822.7" width="13.6" height="39.3" rx="6.8" stroke-width="3.12" fill="#fff" stroke="#000" />
<path d="M752.35,1826 L753.35,1845 Q756.55,1853.5 759.75,1845 L760.75,1826" stroke-width="2.34" fill="none" stroke="#000" />
<line x1="751.25" y1="1856.5" x2="761.75" y2="1856.5" stroke-width="2.08" />
<rect x="775.6" y="1822.7" width="13.6" height="39.3" rx="6.8" stroke-width="3.12" fill="#fff" stroke="#000" />
<path d="M778.2,1826 L779.2,1845 Q782.4,1853.5 785.6,1845 L786.6,1826" stroke-width="2.34" fill="none" stroke="#000" />
<line x1="777.1" y1="1856.5" x2="787.6" y2="1856.5" stroke-width="2.08" />
<rect x="801.45" y="1822.7" width="13.6" height="39.3" rx="6.8" stroke-width="3.12" fill="#fff" stroke="#000" />
<path d="M804.05,1826 L805.05,1845 Q808.25,1853.5 811.45,1845 L812.45,1826" stroke-width="2.34" fill="none" stroke="#000" />
<line x1="802.95" y1="1856.5" x2="813.45" y2="1856.5" stroke-width="2.08" />
<rect x="827.3" y="1822.7" width="13.6" height="39.3" rx="6.8" stroke-width="3.12" fill="#fff" stroke="#000" />
<path d="M829.9,1826 L830.9,1845 Q834.1,1853.5 837.3,1845 L838.3,1826" stroke-width="2.34" fill="none" stroke="#000" />
<line x1="828.8" y1="1856.5" x2="839.3" y2="1856.5" stroke-width="2.08" />
<rect x="853.15" y="1822.7" width="13.6" height="39.3" rx="6.8" stroke-width="3.12" fill="#fff" stroke="#000" />
<path d="M855.75,1826 L856.75,1845 Q859.95,1853.5 863.15,1845 L864.15,1826" stroke-width="2.34" fill="none" stroke="#000" />
<line x1="854.65" y1="1856.5" x2="865.15" y2="1856.5" stroke-width="2.08" />
<rect x="879" y="1822.7" width="13.6" height="39.3" rx="6.8" stroke-width="3.12" fill="#fff" stroke="#000" />
<path d="M881.6,1826 L882.6,1845 Q885.8,1853.5 889,1845 L890,1826" stroke-width="2.34" fill="none" stroke="#000" />
<line x1="880.5" y1="1856.5" x2="891" y2="1856.5" stroke-width="2.08" />
<rect x="904.85" y="1822.7" width="13.6" height="39.3" rx="6.8" stroke-width="3.12" fill="#fff" stroke="#000" />
<path d="M907.45,1826 L908.45,1845 Q911.65,1853.5 914.85,1845 L915.85,1826" stroke-width="2.34" fill="none" stroke="#000" />
<line x1="906.35" y1="1856.5" x2="916.85" y2="1856.5" stroke-width="2.08" />
<rect x="930.7" y="1822.7" width="13.6" height="39.3" rx="6.8" stroke-width="3.12" fill="#fff" stroke="#000" />
<path d="M933.3,1826 L934.3,1845 Q937.5,1853.5 940.7,1845 L941.7,1826" stroke-width="2.34" fill="none" stroke="#000" />
<line x1="932.2" y1="1856.5" x2="942.7" y2="1856.5" stroke-width="2.08" />
<rect x="956.55" y="1822.7" width="13.6" height="39.3" rx="6.8" stroke-width="3.12" fill="#fff" stroke="#000" />
<path d="M959.15,1826 L960.15,1845 Q963.35,1853.5 966.55,1845 L967.55,1826" stroke-width="2.34" fill="none" stroke="#000" />
<line x1="958.05" y1="1856.5" x2="968.55" y2="1856.5" stroke-width="2.08" />
<rect x="982.4" y="1822.7" width="13.6" height="39.3" rx="6.8" stroke-width="3.12" fill="#fff" stroke="#000" />
<path d="M985,1826 L986,1845 Q989.2,1853.5 992.4,1845 L993.4,1826" stroke-width="2.34" fill="none" stroke="#000" />
<line x1="983.9" y1="1856.5" x2="994.4" y2="1856.5" stroke-width="2.08" />
<rect x="1008.25" y="1822.7" width="13.6" height="39.3" rx="6.8" stroke-width="3.12" fill="#fff" stroke="#000" />
<path d="M1010.85,1826 L1011.85,1845 Q1015.05,1853.5 1018.25,1845 L1019.25,1826" stroke-width="2.34" fill="none" stroke="#000" />
<line x1="1009.75" y1="1856.5" x2="1020.25" y2="1856.5" stroke-width="2.08" />
<rect x="1034.1" y="1822.7" width="13.6" height="39.3" rx="6.8" stroke-width="3.12" fill="#fff" stroke="#000" />
<path d="M1036.7,1826 L1037.7,1845 Q1040.9,1853.5 1044.1,1845 L1045.1,1826" stroke-width="2.34" fill="none" stroke="#000" />
<line x1="1035.6" y1="1856.5" x2="1046.1" y2="1856.5" stroke-width="2.08" />
<rect x="672.2" y="1877" width="13.6" height="38.7" rx="6.8" stroke-width="3.12" fill="#fff" stroke="#000" />
<rect x="698.05" y="1877" width="13.6" height="38.7" rx="6.8" stroke-width="3.12" fill="#fff" stroke="#000" />
<rect x="723.9" y="1877" width="13.6" height="38.7" rx="6.8" stroke-width="3.12" fill="#fff" stroke="#000" />
<rect x="749.75" y="1877" width="13.6" height="38.7" rx="6.8" stroke-width="3.12" fill="#fff" stroke="#000" />
<rect x="775.6" y="1877" width="13.6" height="38.7" rx="6.8" stroke-width="3.12" fill="#fff" stroke="#000" />
<rect x="801.45" y="1877" width="13.6" height="38.7" rx="6.8" stroke-width="3.12" fill="#fff" stroke="#000" />
<rect x="827.3" y="1877" width="13.6" height="38.7" rx="6.8" stroke-width="3.12" fill="#fff" stroke="#000" />
<rect x="853.15" y="1877" width="13.6" height="38.7" rx="6.8" stroke-width="3.12" fill="#fff" stroke="#000" />
<rect x="879" y="1877" width="13.6" height="38.7" rx="6.8" stroke-width="3.12" fill="#fff" stroke="#000" />
<rect x="904.85" y="1877" width="13.6" height="38.7" rx="6.8" stroke-width="3.12" fill="#fff" stroke="#000" />
<rect x="930.7" y="1877" width="13.6" height="38.7" rx="6.8" stroke-width="3.12" fill="#fff" stroke="#000" />
<rect x="956.55" y="1877" width="13.6" height="38.7" rx="6.8" stroke-width="3.12" fill="#fff" stroke="#000" />
<rect x="982.4" y="1877" width="13.6" height="38.7" rx="6.8" stroke-width="3.12" fill="#fff" stroke="#000" />
<rect x="1008.25" y="1877" width="13.6" height="38.7" rx="6.8" stroke-width="3.12" fill="#fff" stroke="#000" />
<rect x="1034.1" y="1877" width="13.6" height="39.5" rx="6.8" stroke-width="3.12" fill="#fff" stroke="#000" />
<rect x="1059.95" y="1877" width="13.6" height="39.5" rx="6.8" stroke-width="3.12" fill="#fff" stroke="#000" />
<rect x="1085.8" y="1877" width="13.6" height="39.5" rx="6.8" stroke-width="3.12" fill="#fff" stroke="#000" />
<rect x="1111.65" y="1877" width="13.6" height="39.5" rx="6.8" stroke-width="3.12" fill="#fff" stroke="#000" />
<rect x="1137.5" y="1877" width="13.6" height="39.5" rx="6.8" stroke-width="3.12" fill="#fff" stroke="#000" />
<rect x="1163.35" y="1877" width="13.6" height="39.5" rx="6.8" stroke-width="3.12" fill="#fff" stroke="#000" />
<rect x="1189.2" y="1877" width="13.6" height="39.5" rx="6.8" stroke-width="3.12" fill="#fff" stroke="#000" />
<rect x="1215.05" y="1877" width="13.6" height="39.5" rx="6.8" stroke-width="3.12" fill="#fff" stroke="#000" />
<rect x="1240.9" y="1877" width="13.6" height="39.5" rx="6.8" stroke-width="3.12" fill="#fff" stroke="#000" />
<rect x="1266.75" y="1877" width="13.6" height="39.5" rx="6.8" stroke-width="3.12" fill="#fff" stroke="#000" />
<rect x="933.3" y="1883" width="8.4" height="29" rx="4.2" stroke-width="0" fill="#000" stroke="none" />
<rect x="935.5" y="1889" width="4" height="4" rx="0" stroke-width="0" fill="#fff" stroke="none" />
<rect x="935.5" y="1902" width="4" height="3" rx="0" stroke-width="0" fill="#fff" stroke="none" />
<rect x="959.15" y="1883" width="8.4" height="29" rx="4.2" stroke-width="0" fill="#000" stroke="none" />
<rect x="961.35" y="1889" width="4" height="4" rx="0" stroke-width="0" fill="#fff" stroke="none" />
<rect x="961.35" y="1902" width="4" height="3" rx="0" stroke-width="0" fill="#fff" stroke="none" />
<rect x="1036.7" y="1883" width="8.4" height="29" rx="4.2" stroke-width="0" fill="#000" stroke="none" />
<rect x="1038.9" y="1889" width="4" height="4" rx="0" stroke-width="0" fill="#fff" stroke="none" />
<rect x="1038.9" y="1902" width="4" height="3" rx="0" stroke-width="0" fill="#fff" stroke="none" />
<rect x="726.9" y="1893" width="7.6" height="18" rx="0" stroke-width="0" fill="#000" stroke="none" />
<rect x="728.5" y="1896" width="4.4" height="5" rx="0" stroke-width="0" fill="#fff" stroke="none" />
<rect x="728.5" y="1904" width="4.4" height="4" rx="0" stroke-width="0" fill="#fff" stroke="none" />
<rect x="907.85" y="1893" width="7.6" height="18" rx="0" stroke-width="0" fill="#000" stroke="none" />
<rect x="909.45" y="1896" width="4.4" height="5" rx="0" stroke-width="0" fill="#fff" stroke="none" />
<rect x="909.45" y="1904" width="4.4" height="4" rx="0" stroke-width="0" fill="#fff" stroke="none" />
<path d="M1011.65,1893 V1907 Q1011.65,1911 1015.05,1911 Q1018.45,1911 1018.45,1907 V1893" stroke-width="2.34" fill="none" stroke="#000" />
<path d="M1218.45,1893 V1907 Q1218.45,1911 1221.85,1911 Q1225.25,1911 1225.25,1907 V1893" stroke-width="2.34" fill="none" stroke="#000" />
<use href="#clip" transform="translate(824.4 2011) scale(1 -1)"/>
<use href="#clipInset" transform="translate(824.4 2011) scale(1 -1)"/>
<use href="#clip" transform="translate(1128.3 2011) scale(1 -1)"/>
<use href="#clipInset" transform="translate(1128.3 2011) scale(1 -1)"/>
<line x1="765" y1="1985.6" x2="776" y2="1985.6" stroke-width="2.6" />
<line x1="779" y1="1985.6" x2="786" y2="1985.6" stroke-width="2.6" />
<line x1="749" y1="1981" x2="766" y2="1981" stroke-width="3.9" />
<line x1="870" y1="1987" x2="889" y2="1987" stroke-width="3.9" />
<line x1="893" y1="1983" x2="903" y2="1983" stroke-width="2.6" />
<line x1="1068" y1="1984" x2="1086" y2="1984" stroke-width="3.9" />
<line x1="1068" y1="1988" x2="1074" y2="1988" stroke-width="2.6" />
<path d="M1167,1981 L1195,1990 H1180 L1167,1986 Z" stroke-width="0" fill="#000" stroke="none" />
<use href="#screw" transform="translate(620 2011) scale(1 -1)"/>
<use href="#screw" transform="translate(1331.8 2011) scale(-1 -1)"/>
<line x1="824.4" y1="1696" x2="824.4" y2="1890" stroke-width="2.47" />
<line x1="824.4" y1="1896" x2="824.4" y2="1904" stroke-width="2.47" />
<line x1="824.4" y1="1912" x2="824.4" y2="1944" stroke-width="2.47" />
<line x1="1128.3" y1="1696" x2="1128.3" y2="1890" stroke-width="2.47" />
<line x1="1128.3" y1="1896" x2="1128.3" y2="1904" stroke-width="2.47" />
<line x1="1128.3" y1="1912" x2="1128.3" y2="1944" stroke-width="2.47" />
<line x1="824.4" y1="1713.8" x2="1128.3" y2="1713.8" stroke-width="2.99" />
<polygon points="0,0 -17,4.6 -13.5,0 -17,-4.6" fill="#000" stroke="#000" stroke-width="0.6" transform="translate(824.4 1713.8) rotate(180)"/>
<polygon points="0,0 -17,4.6 -13.5,0 -17,-4.6" fill="#000" stroke="#000" stroke-width="0.6" transform="translate(1128.3 1713.8) rotate(0)"/>
<text x="979.3" y="1706.8" font-size="48.5" text-anchor="middle" fill="#000" stroke="none">94</text>
<text x="980" y="1760.4" font-size="48.5" font-style="italic" text-anchor="middle" fill="#000" stroke="none">3.7</text>
<line x1="976.5" y1="1785" x2="976.5" y2="2026" stroke-width="3.12" stroke-linecap="round" stroke-dasharray="28 4.7 5.4 4.7"/>
<text x="973.5" y="2104.8" font-size="49.5" text-anchor="middle" fill="#000" stroke="none">(5)</text>
</svg></body></html>
